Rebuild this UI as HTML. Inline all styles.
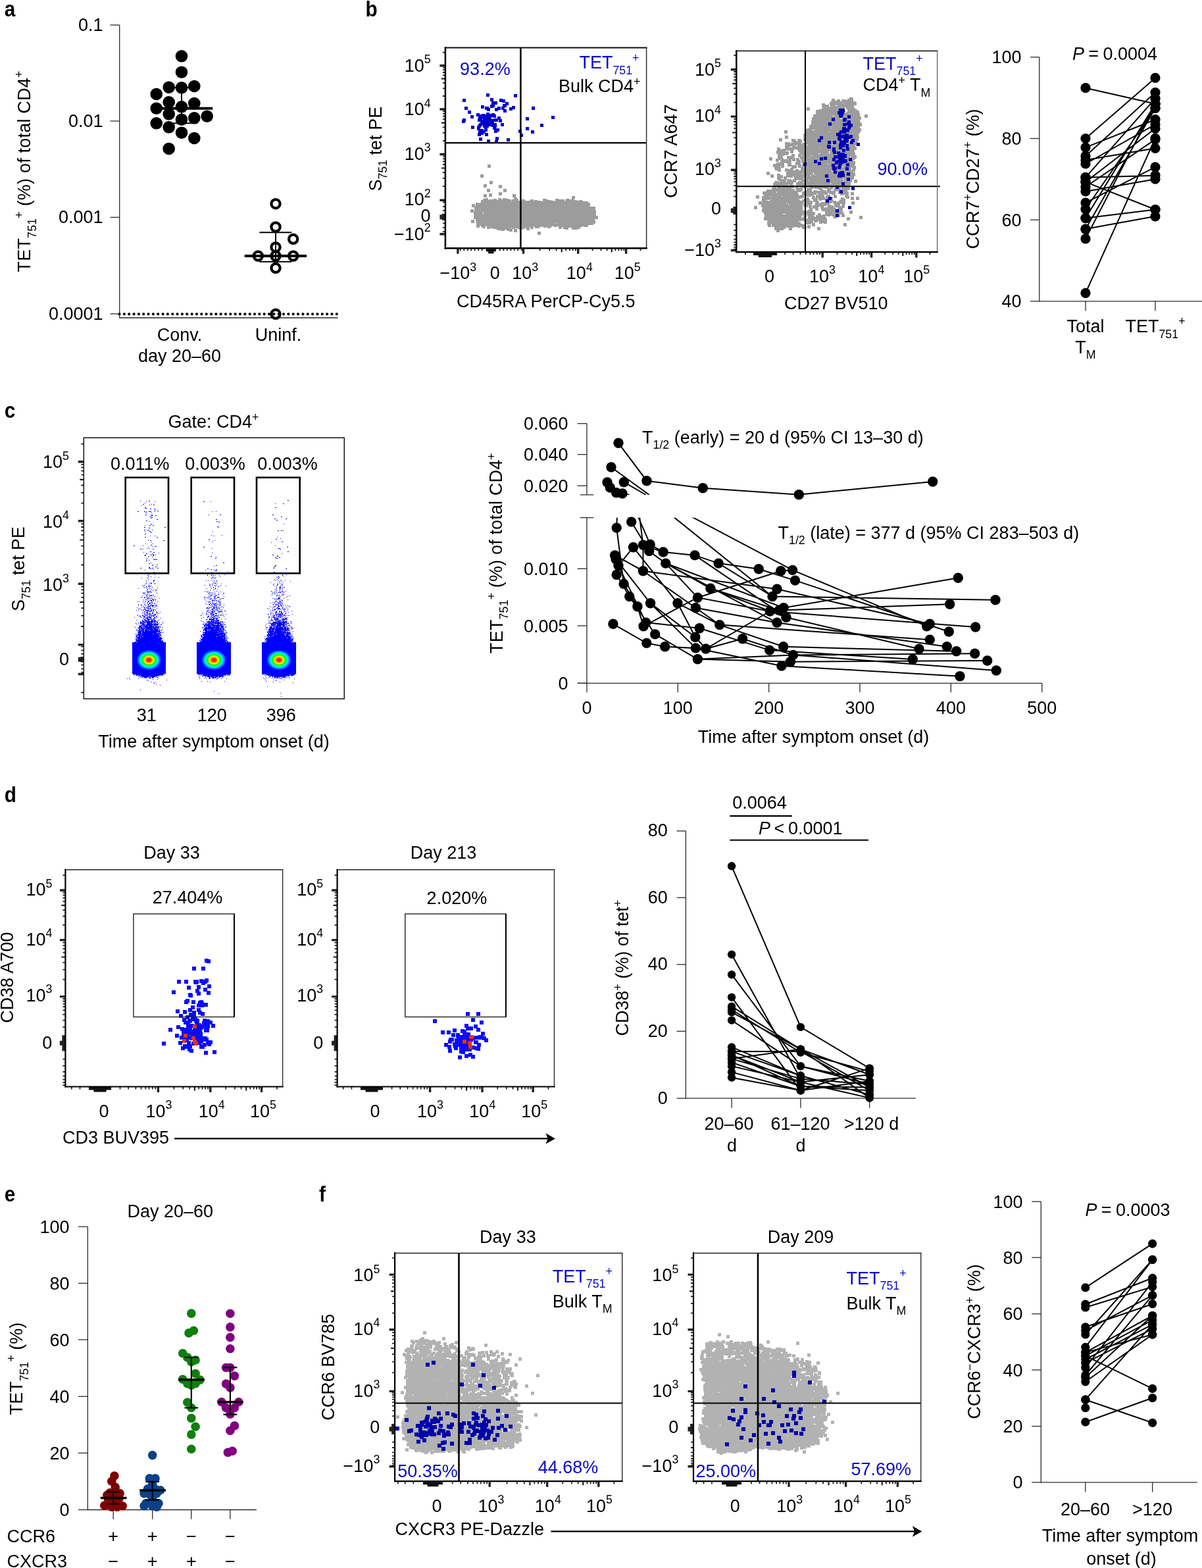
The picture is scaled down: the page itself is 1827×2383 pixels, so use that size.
<!DOCTYPE html>
<html lang="en"><head><meta charset="utf-8"><title>Figure</title>
<style>html,body{margin:0;padding:0;background:#fff}svg{display:block}svg{font-family:"Liberation Sans",Arial,Helvetica,sans-serif;font-size:27px}</style>
</head><body>
<svg width="1827" height="2383" viewBox="0 0 1827 2383">
<rect width="1827" height="2383" fill="#fff"/>
<g id="pa">
<text transform="translate(6.8 24.6) scale(0.88 1)" font-size="33.8" font-weight="bold">a</text>
<path d="M181.7 38V483H513.5" fill="none" stroke="#2a2a2a" stroke-width="1.3"/>
<line x1="167.5" y1="38" x2="181.7" y2="38" stroke="#2a2a2a" stroke-width="1.3"/>
<text x="156.5" y="47" text-anchor="end">0.1</text>
<line x1="167.5" y1="184" x2="181.7" y2="184" stroke="#2a2a2a" stroke-width="1.3"/>
<text x="156.5" y="193" text-anchor="end">0.01</text>
<line x1="167.5" y1="330.3" x2="181.7" y2="330.3" stroke="#2a2a2a" stroke-width="1.3"/>
<text x="156.5" y="339.3" text-anchor="end">0.001</text>
<line x1="167.5" y1="477" x2="181.7" y2="477" stroke="#2a2a2a" stroke-width="1.3"/>
<text x="156.5" y="486" text-anchor="end">0.0001</text>
<line x1="181.5" y1="477.3" x2="515" y2="477.3" stroke="#000" stroke-width="4.2" stroke-dasharray="0.01 7.33" stroke-linecap="round"/>
<text x="46" y="260.5" text-anchor="middle" letter-spacing="0.2" transform="rotate(-90 46 260.5)">TET<tspan dy="8.6" font-size="17.8">751</tspan><tspan dy="-19.2" font-size="17.8">+</tspan><tspan dy="10.5"> (%) of total CD4</tspan><tspan dy="-10.5" font-size="17.8">+</tspan></text>
<text x="273" y="517.5" text-anchor="middle">Conv.</text>
<text x="273" y="549.5" text-anchor="middle">day 20–60</text>
<text x="423" y="517.5" text-anchor="middle">Uninf.</text>
<line x1="276" y1="133.3" x2="276" y2="187.3" stroke="#000" stroke-width="2"/>
<line x1="263.3" y1="187.3" x2="300" y2="187.3" stroke="#000" stroke-width="2"/>
<line x1="263.3" y1="133.3" x2="288.7" y2="133.3" stroke="#000" stroke-width="2"/>
<g fill="#000"><circle cx="276" cy="85.3" r="9.3"/><circle cx="276" cy="109.7" r="9.3"/><circle cx="256.7" cy="132.7" r="9.3"/><circle cx="276" cy="133.3" r="9.3"/><circle cx="295.3" cy="131" r="9.3"/><circle cx="237.7" cy="143" r="9.3"/><circle cx="256.7" cy="155.3" r="9.3"/><circle cx="276" cy="162.3" r="9.3"/><circle cx="295.3" cy="157" r="9.3"/><circle cx="237.7" cy="164.7" r="9.3"/><circle cx="256.7" cy="173.3" r="9.3"/><circle cx="276" cy="181.7" r="9.3"/><circle cx="295.3" cy="179.3" r="9.3"/><circle cx="314.7" cy="176.7" r="9.3"/><circle cx="237.7" cy="187.3" r="9.3"/><circle cx="256.7" cy="193.3" r="9.3"/><circle cx="276" cy="201.7" r="9.3"/><circle cx="295.3" cy="210" r="9.3"/><circle cx="256.7" cy="226" r="9.3"/></g>
<line x1="245" y1="164.7" x2="323.3" y2="164.7" stroke="#000" stroke-width="4"/>
<line x1="419" y1="353.3" x2="419" y2="397.7" stroke="#000" stroke-width="2"/>
<line x1="394.3" y1="353.3" x2="443.3" y2="353.3" stroke="#000" stroke-width="2"/>
<line x1="394.3" y1="397.7" x2="443.3" y2="397.7" stroke="#000" stroke-width="2"/>
<line x1="371.7" y1="389" x2="466" y2="389" stroke="#000" stroke-width="4"/>
<g fill="none" stroke="#000" stroke-width="4.2"><circle cx="419" cy="309.7" r="6.6"/><circle cx="419" cy="345" r="6.6"/><circle cx="445.7" cy="363.3" r="6.6"/><circle cx="419" cy="375.7" r="6.6"/><circle cx="392.3" cy="389" r="6.6"/><circle cx="419" cy="389" r="6.6"/><circle cx="445.7" cy="389" r="6.6"/><circle cx="419" cy="407.3" r="6.6"/><circle cx="419" cy="477.3" r="6.6"/></g>
</g>
<g id="pb1">
<text transform="translate(555.5 24.6) scale(0.88 1)" font-size="33.8" font-weight="bold">b</text>
<path d="M741 250h5v5h-5zM730 265h5v5h-5zM744 275h5v5h-5zM735 280h5v5h-5zM758 281h5v5h-5zM765 287h5v5h-5zM740 287h5v5h-5zM758 292h5v5h-5zM743 294h5v5h-5zM735 295h5v5h-5zM779 295h5v5h-5zM781 300h5v2h-5zM764 301h5v1h-5zM737 301h5v1h-5zM869 298h5v5h-5zM757 301h5v2h-5zM781 302h7v1h-7zM764 302h9v1h-9zM844 302h5v1h-5zM825 302h5v1h-5zM860 302h5v1h-5zM750 302h5v1h-5zM734 302h8v2h-8zM860 303h12v1h-12zM825 303h8v1h-8zM743 303h12v1h-12zM757 303h20v1h-20zM793 303h5v2h-5zM778 303h10v2h-10zM806 303h5v2h-5zM825 304h13v1h-13zM812 304h5v1h-5zM880 304h5v1h-5zM859 304h18v1h-18zM731 304h46v1h-46zM844 303h14v3h-14zM825 305h18v1h-18zM859 305h27v1h-27zM731 305h91v1h-91zM731 306h163v2h-163zM723 308h5v1h-5zM729 308h168v1h-168zM723 309h174v4h-174zM717 310h5v3h-5zM717 313h180v1h-180zM717 314h188v1h-188zM721 315h184v5h-184zM715 318h5v3h-5zM721 320h185v1h-185zM715 321h191v2h-191zM720 323h14v2h-14zM735 323h171v2h-171zM720 325h185v1h-185zM720 326h186v2h-186zM720 328h189v5h-189zM723 333h181v2h-181zM723 335h182v2h-182zM716 334h5v5h-5zM724 337h181v2h-181zM724 339h120v1h-120zM845 339h60v1h-60zM724 340h178v2h-178zM724 342h170v1h-170zM739 343h155v1h-155zM731 343h7v2h-7zM849 344h36v1h-36zM812 344h12v1h-12zM842 344h5v1h-5zM740 344h71v1h-71zM887 344h7v1h-7zM825 344h14v1h-14zM724 343h5v3h-5zM740 345h65v1h-65zM855 345h27v1h-27zM826 345h5v1h-5zM733 345h5v2h-5zM832 345h5v2h-5zM813 345h7v2h-7zM799 346h6v1h-6zM778 346h20v1h-20zM740 346h37v1h-37zM806 345h5v3h-5zM849 345h5v3h-5zM856 346h8v2h-8zM869 346h13v2h-13zM786 347h12v1h-12zM740 347h5v1h-5zM749 347h34v1h-34zM755 348h24v1h-24zM859 348h5v1h-5zM869 348h9v1h-9zM789 348h5v1h-5zM800 347h5v3h-5zM755 349h12v1h-12zM770 349h9v2h-9zM762 350h5v1h-5zM774 351h5v1h-5zM781 348h5v5h-5zM817 352h5v5h-5z" fill="#9c9c9c"/>
<path d="M739 142h5v5h-5zM781 143h5v5h-5zM759 150h5v1h-5zM745 149h5v5h-5zM703 150h5v5h-5zM759 151h9v4h-9zM763 155h10v1h-10zM768 156h5v2h-5zM747 154h9v5h-9zM764 158h9v2h-9zM764 160h6v2h-6zM745 159h7v4h-7zM778 161h5v2h-5zM762 162h8v1h-8zM737 162h6v2h-6zM756 162h5v2h-5zM745 163h5v1h-5zM731 160h5v5h-5zM762 163h5v3h-5zM774 163h9v3h-9zM706 162h5v5h-5zM808 162h5v5h-5zM737 164h8v3h-8zM752 164h9v3h-9zM762 166h8v1h-8zM774 166h5v2h-5zM752 167h5v2h-5zM740 167h5v2h-5zM765 167h5v4h-5zM711 168h5v5h-5zM739 171h5v2h-5zM747 172h5v1h-5zM724 172h5v2h-5zM732 173h5v1h-5zM739 173h13v1h-13zM724 174h30v3h-30zM727 177h27v1h-27zM749 178h5v1h-5zM715 175h5v5h-5zM756 177h5v3h-5zM727 178h20v2h-20zM838 176h5v5h-5zM750 180h11v1h-11zM726 180h21v1h-21zM703 180h5v2h-5zM726 181h7v1h-7zM734 181h29v1h-29zM799 178h5v5h-5zM702 182h6v3h-6zM726 182h31v3h-31zM758 182h5v4h-5zM702 185h5v2h-5zM730 185h21v2h-21zM728 187h27v2h-27zM726 189h29v1h-29zM761 187h5v5h-5zM734 190h21v2h-21zM726 190h7v2h-7zM821 188h5v5h-5zM747 192h8v1h-8zM725 192h6v2h-6zM734 192h9v2h-9zM749 193h6v1h-6zM749 194h5v1h-5zM716 191h5v5h-5zM725 194h5v2h-5zM749 195h10v2h-10zM799 193h5v5h-5zM736 194h5v4h-5zM725 196h10v2h-10zM751 197h8v3h-8zM727 198h14v2h-14zM788 197h5v5h-5zM751 200h5v2h-5zM727 200h11v2h-11zM807 198h5v5h-5zM726 202h16v1h-16zM726 203h9v2h-9zM737 203h5v4h-5zM726 205h5v2h-5zM790 203h5v5h-5zM753 208h5v5h-5zM728 209h5v5h-5zM770 210h5v5h-5zM740 212h5v5h-5zM752 213h5v5h-5z" fill="#0000cd"/>
<line x1="791.4" y1="72.5" x2="791.4" y2="378" stroke="#000" stroke-width="2.5"/>
<line x1="676.7" y1="217.1" x2="982.6" y2="217.1" stroke="#000" stroke-width="2.4"/>
<path d="M672.9 283.2h4M672.9 270.9h4M672.9 262.2h4M672.9 250h4M672.9 245.3h4M672.9 241.3h4M672.9 237.7h4M672.9 213.9h4M672.9 201.8h4M672.9 193.3h4M672.9 181.2h4M672.9 176.6h4M672.9 172.6h4M672.9 169.1h4M672.9 146h4M672.9 134.4h4M672.9 126.1h4M672.9 114.4h4M672.9 110h4M672.9 106.1h4M672.9 102.7h4M672.9 79.7h4M672.9 320.2h4M672.9 339.4h4M672.9 313.8h4M672.9 345.8h4M672.9 307.4h4M672.9 352.2h4M820.5 377.3v4M835.2 377.3v4M845.6 377.3v4M860.2 377.3v4M865.8 377.3v4M870.6 377.3v4M874.9 377.3v4M900.6 377.3v4M913.5 377.3v4M922.6 377.3v4M935.4 377.3v4M940.3 377.3v4M944.5 377.3v4M948.3 377.3v4M973.5 377.3v4M760 377.3v4M732.6 377.3v4M765.4 377.3v4M727.2 377.3v4M770.9 377.3v4M721.7 377.3v4M776.4 377.3v4M716.2 377.3v4M781.8 377.3v4M710.8 377.3v4M787.3 377.3v4M705.3 377.3v4M792.8 377.3v4M699.8 377.3v4" fill="none" stroke="#222" stroke-width="1.8"/>
<path d="M670.9 255.5h6M670.9 186.6h6M670.9 119.7h6M853.7 377.3v6M929.7 377.3v6" fill="none" stroke="#222" stroke-width="2.2"/>
<path d="M668.4 304.2h8.5M668.4 234.5h8.5M668.4 166h8.5M668.4 99.7h8.5M668.4 355.7h8.5M795.5 377.3v8.5M878.7 377.3v8.5M951.6 377.3v8.5M695.9 377.3v8.5" fill="none" stroke="#222" stroke-width="3.4"/>
<rect x="671.9" y="324.8" width="5" height="10" fill="#222"/><rect x="668.4" y="326.3" width="8.5" height="7" fill="#222"/><rect x="738.8" y="377.3" width="15" height="5" fill="#111"/><rect x="742.1" y="377.3" width="8.4" height="8" fill="#111"/>
<line x1="676.9" y1="72.5" x2="982.6" y2="72.5" stroke="#111" stroke-width="1.9" stroke-linecap="square"/>
<line x1="982.6" y1="72.5" x2="982.6" y2="377.3" stroke="#333" stroke-width="1.5" stroke-linecap="square"/>
<line x1="676.9" y1="377.3" x2="982.6" y2="377.3" stroke="#000" stroke-width="2.6" stroke-linecap="square"/>
<line x1="676.9" y1="72.5" x2="676.9" y2="377.3" stroke="#000" stroke-width="2.5" stroke-linecap="square"/>
<text x="654.6" y="108.8" text-anchor="end">10<tspan dy="-12.4" font-size="17.8">5</tspan></text>
<text x="654.6" y="175.2" text-anchor="end">10<tspan dy="-12.4" font-size="17.8">4</tspan></text>
<text x="654.6" y="242.8" text-anchor="end">10<tspan dy="-12.4" font-size="17.8">3</tspan></text>
<text x="654.6" y="312" text-anchor="end">10<tspan dy="-12.4" font-size="17.8">2</tspan></text>
<text x="654.6" y="364.8" text-anchor="end">−10<tspan dy="-12.4" font-size="17.8">2</tspan></text>
<text x="654.6" y="336.5" text-anchor="end">0</text>
<text x="696.3" y="424" text-anchor="middle">−10<tspan dy="-12.4" font-size="17.8">3</tspan></text>
<text x="752.2" y="424" text-anchor="middle">0</text>
<text x="798.2" y="424" text-anchor="middle">10<tspan dy="-12.4" font-size="17.8">3</tspan></text>
<text x="880.8" y="424" text-anchor="middle">10<tspan dy="-12.4" font-size="17.8">4</tspan></text>
<text x="953.7" y="424" text-anchor="middle">10<tspan dy="-12.4" font-size="17.8">5</tspan></text>
<text x="829.7" y="467" text-anchor="middle">CD45RA PerCP-Cy5.5</text>
<text x="579.6" y="226.2" text-anchor="middle" transform="rotate(-90 579.6 226.2)">S<tspan dy="8.6" font-size="17.8">751</tspan><tspan dy="-8.6"> tet PE</tspan></text>
<text x="699.1" y="113.6" fill="#0a0ac8">93.2%</text>
<text x="971.5" y="104.2" text-anchor="end" fill="#0a0ac8">TET<tspan dy="8.6" font-size="17.8">751</tspan><tspan dy="-19.2" font-size="17.8">+</tspan></text>
<text x="973.5" y="140.3" text-anchor="end">Bulk CD4<tspan dy="-10.5" font-size="17.8">+</tspan></text>
</g>
<g id="pb2">
<path d="M1291 148h5v1h-5zM1291 149h6v1h-6zM1288 150h9v2h-9zM1279 151h7v1h-7zM1264 150h5v3h-5zM1272 151h5v2h-5zM1279 152h18v2h-18zM1263 153h14v1h-14zM1263 154h37v1h-37zM1261 155h41v1h-41zM1261 156h20v1h-20zM1282 156h20v1h-20zM1249 157h5v2h-5zM1261 157h41v3h-41zM1273 160h25v1h-25zM1262 160h8v1h-8zM1249 159h11v3h-11zM1262 161h36v1h-36zM1250 162h48v1h-48zM1285 163h13v1h-13zM1250 163h34v1h-34zM1249 164h35v2h-35zM1286 164h14v2h-14zM1245 166h38v1h-38zM1226 163h5v5h-5zM1288 166h15v2h-15zM1240 167h43v1h-43zM1288 168h18v2h-18zM1240 168h45v4h-45zM1286 170h20v2h-20zM1241 172h66v1h-66zM1239 173h68v1h-68zM1236 174h71v1h-71zM1267 175h40v2h-40zM1236 175h30v2h-30zM1236 177h73v1h-73zM1314 174h5v5h-5zM1234 178h75v1h-75zM1234 179h45v1h-45zM1280 179h29v2h-29zM1234 180h43v1h-43zM1234 181h75v1h-75zM1234 182h73v1h-73zM1233 183h74v1h-74zM1233 184h75v3h-75zM1286 187h24v1h-24zM1233 187h52v1h-52zM1233 188h77v1h-77zM1232 189h78v1h-78zM1230 190h80v1h-80zM1284 191h26v1h-26zM1230 191h53v1h-53zM1230 192h77v2h-77zM1230 194h33v1h-33zM1264 194h43v1h-43zM1227 195h82v1h-82zM1225 196h84v1h-84zM1223 197h12v1h-12zM1238 197h71v1h-71zM1223 198h86v2h-86zM1223 200h37v1h-37zM1261 200h46v1h-46zM1223 201h84v1h-84zM1192 198h5v5h-5zM1224 202h83v1h-83zM1222 203h83v1h-83zM1289 204h16v1h-16zM1221 204h67v1h-67zM1283 205h22v1h-22zM1221 205h58v2h-58zM1293 206h13v1h-13zM1283 206h9v1h-9zM1221 207h60v2h-60zM1283 207h23v2h-23zM1193 206h5v5h-5zM1221 209h85v2h-85zM1203 211h5v1h-5zM1212 211h5v1h-5zM1221 211h84v1h-84zM1221 212h67v1h-67zM1203 212h7v2h-7zM1292 212h13v2h-13zM1184 210h5v5h-5zM1212 212h7v3h-7zM1221 213h70v2h-70zM1203 214h8v1h-8zM1294 214h9v2h-9zM1203 215h16v1h-16zM1223 215h69v2h-69zM1205 216h14v1h-14zM1294 216h10v2h-10zM1193 216h8v2h-8zM1202 217h16v1h-16zM1279 217h13v1h-13zM1219 217h57v2h-57zM1282 218h22v1h-22zM1193 218h25v1h-25zM1266 219h10v1h-10zM1193 219h72v1h-72zM1277 219h27v2h-27zM1228 220h48v1h-48zM1212 220h14v1h-14zM1193 220h18v1h-18zM1193 221h16v1h-16zM1212 221h88v1h-88zM1193 222h10v1h-10zM1204 222h96v1h-96zM1204 223h98v1h-98zM1193 223h7v1h-7zM1247 224h55v1h-55zM1193 224h53v1h-53zM1193 225h109v1h-109zM1181 224h5v3h-5zM1189 226h113v1h-113zM1211 227h91v1h-91zM1181 227h26v2h-26zM1213 228h86v1h-86zM1180 229h14v1h-14zM1213 229h61v1h-61zM1275 229h24v1h-24zM1213 230h47v1h-47zM1262 230h37v1h-37zM1273 231h26v1h-26zM1201 229h5v4h-5zM1261 231h11v2h-11zM1215 231h45v2h-45zM1273 232h27v1h-27zM1180 230h19v4h-19zM1247 233h13v1h-13zM1261 233h39v1h-39zM1215 233h29v1h-29zM1213 234h87v1h-87zM1182 234h17v1h-17zM1219 235h81v1h-81zM1182 235h15v1h-15zM1203 234h5v3h-5zM1213 235h5v2h-5zM1219 236h14v1h-14zM1235 236h45v1h-45zM1182 236h10v1h-10zM1282 236h20v2h-20zM1213 237h67v1h-67zM1182 237h7v1h-7zM1196 237h12v2h-12zM1213 238h79v1h-79zM1182 238h8v2h-8zM1293 238h9v2h-9zM1196 239h10v1h-10zM1232 239h60v1h-60zM1216 239h15v1h-15zM1182 240h9v1h-9zM1216 240h86v1h-86zM1196 240h13v2h-13zM1216 241h84v1h-84zM1179 241h12v1h-12zM1210 240h5v3h-5zM1179 242h18v1h-18zM1217 242h60v1h-60zM1198 242h5v1h-5zM1278 242h22v1h-22zM1169 239h5v5h-5zM1278 243h19v1h-19zM1204 242h5v3h-5zM1210 243h7v2h-7zM1186 243h17v2h-17zM1218 243h59v2h-59zM1281 244h17v1h-17zM1179 243h5v3h-5zM1211 245h6v1h-6zM1281 245h19v1h-19zM1187 245h16v1h-16zM1218 245h18v1h-18zM1238 245h39v1h-39zM1185 246h18v1h-18zM1218 246h82v2h-82zM1193 247h9v1h-9zM1180 247h12v2h-12zM1222 248h78v1h-78zM1209 246h8v4h-8zM1260 249h40v1h-40zM1219 249h39v1h-39zM1197 248h6v3h-6zM1209 250h9v1h-9zM1175 249h17v3h-17zM1219 250h80v2h-80zM1197 251h14v2h-14zM1219 252h82v1h-82zM1213 251h5v3h-5zM1175 252h11v2h-11zM1187 252h5v2h-5zM1219 253h60v1h-60zM1282 253h19v1h-19zM1203 253h8v2h-8zM1213 254h88v1h-88zM1177 254h15v1h-15zM1296 255h5v1h-5zM1217 255h76v1h-76zM1201 255h10v1h-10zM1177 255h10v2h-10zM1201 256h5v1h-5zM1193 256h5v1h-5zM1295 256h6v1h-6zM1217 256h77v3h-77zM1295 257h5v2h-5zM1209 257h5v2h-5zM1178 257h9v2h-9zM1193 257h13v2h-13zM1193 259h71v2h-71zM1265 259h35v2h-35zM1182 259h5v2h-5zM1196 261h101v1h-101zM1195 262h41v2h-41zM1237 262h45v2h-45zM1283 262h17v2h-17zM1237 264h63v1h-63zM1195 264h24v1h-24zM1220 264h15v1h-15zM1165 261h5v5h-5zM1181 264h5v2h-5zM1195 265h105v1h-105zM1239 266h61v1h-61zM1233 266h5v1h-5zM1195 266h37v2h-37zM1233 267h67v1h-67zM1206 268h92v1h-92zM1171 265h5v5h-5zM1191 268h14v2h-14zM1207 269h91v1h-91zM1181 266h9v5h-9zM1223 270h75v1h-75zM1207 270h15v2h-15zM1191 270h5v2h-5zM1223 271h58v1h-58zM1181 271h6v1h-6zM1282 271h16v2h-16zM1224 272h57v1h-57zM1181 272h22v1h-22zM1205 272h18v2h-18zM1196 273h7v1h-7zM1224 273h58v1h-58zM1182 273h13v2h-13zM1283 273h12v2h-12zM1224 274h5v1h-5zM1218 274h5v1h-5zM1230 274h52v1h-52zM1186 275h9v1h-9zM1177 275h5v1h-5zM1196 274h14v3h-14zM1213 275h82v2h-82zM1177 276h18v1h-18zM1298 273h5v5h-5zM1177 277h29v1h-29zM1222 277h71v1h-71zM1210 277h10v1h-10zM1175 278h31v1h-31zM1210 278h52v2h-52zM1263 278h30v2h-30zM1175 279h30v2h-30zM1283 280h10v1h-10zM1210 280h72v1h-72zM1175 281h23v1h-23zM1210 281h83v1h-83zM1200 281h7v1h-7zM1190 282h17v1h-17zM1175 282h13v1h-13zM1218 282h73v1h-73zM1218 283h60v1h-60zM1189 283h18v2h-18zM1181 283h7v2h-7zM1261 284h7v1h-7zM1273 284h5v1h-5zM1175 284h5v1h-5zM1231 284h29v1h-29zM1218 284h10v1h-10zM1209 282h5v4h-5zM1215 285h5v1h-5zM1221 285h5v1h-5zM1181 285h26v1h-26zM1229 285h31v1h-31zM1173 285h7v1h-7zM1261 285h5v1h-5zM1269 285h9v1h-9zM1209 286h11v1h-11zM1226 286h10v1h-10zM1173 286h30v1h-30zM1253 286h13v1h-13zM1238 286h12v1h-12zM1279 283h13v5h-13zM1267 286h11v2h-11zM1257 287h9v1h-9zM1243 287h7v1h-7zM1173 287h35v1h-35zM1226 287h8v2h-8zM1245 288h7v1h-7zM1267 288h24v1h-24zM1210 287h10v3h-10zM1257 288h6v2h-6zM1165 288h43v2h-43zM1237 289h5v1h-5zM1267 289h21v1h-21zM1247 289h9v1h-9zM1223 289h11v2h-11zM1164 290h54v1h-54zM1273 290h15v1h-15zM1257 290h15v1h-15zM1236 290h20v1h-20zM1181 291h37v1h-37zM1219 291h51v2h-51zM1159 291h21v2h-21zM1181 292h32v1h-32zM1219 293h39v1h-39zM1274 291h16v4h-16zM1159 293h54v2h-54zM1260 293h10v2h-10zM1242 294h16v1h-16zM1219 294h22v2h-22zM1244 295h8v1h-8zM1264 295h5v1h-5zM1253 295h5v1h-5zM1277 295h13v1h-13zM1159 295h55v1h-55zM1293 292h5v5h-5zM1161 296h53v1h-53zM1284 296h5v1h-5zM1217 296h20v1h-20zM1277 296h5v1h-5zM1257 296h5v1h-5zM1161 297h76v1h-76zM1240 296h13v3h-13zM1255 297h7v2h-7zM1223 298h10v1h-10zM1173 298h15v1h-15zM1189 298h33v1h-33zM1158 298h14v1h-14zM1284 297h7v3h-7zM1267 296h5v5h-5zM1234 298h5v3h-5zM1158 299h64v2h-64zM1255 299h11v2h-11zM1240 299h14v2h-14zM1224 300h6v1h-6zM1149 297h5v5h-5zM1286 300h5v2h-5zM1278 300h5v2h-5zM1158 301h61v1h-61zM1222 301h8v2h-8zM1234 301h9v2h-9zM1278 302h7v1h-7zM1158 302h56v1h-56zM1293 299h5v5h-5zM1301 299h5v5h-5zM1244 301h22v3h-22zM1158 303h13v1h-13zM1172 303h44v1h-44zM1276 303h9v2h-9zM1219 303h12v2h-12zM1244 304h5v1h-5zM1170 304h46v1h-46zM1158 304h7v1h-7zM1260 304h6v1h-6zM1236 303h7v3h-7zM1254 304h5v2h-5zM1158 305h10v1h-10zM1260 305h11v1h-11zM1169 305h66v1h-66zM1275 305h10v1h-10zM1236 306h9v1h-9zM1254 306h17v1h-17zM1153 306h82v1h-82zM1272 306h13v1h-13zM1153 307h5v1h-5zM1159 307h76v1h-76zM1247 307h18v2h-18zM1239 307h6v2h-6zM1223 308h12v1h-12zM1196 308h25v1h-25zM1153 308h42v1h-42zM1266 307h19v3h-19zM1153 309h82v1h-82zM1294 306h5v5h-5zM1239 309h22v2h-22zM1221 310h12v1h-12zM1280 310h5v1h-5zM1153 310h45v1h-45zM1199 310h21v2h-21zM1157 311h41v1h-41zM1221 311h13v1h-13zM1238 311h25v1h-25zM1268 310h9v3h-9zM1279 311h5v2h-5zM1235 312h21v1h-21zM1221 312h7v2h-7zM1235 313h17v1h-17zM1157 312h63v3h-63zM1258 312h9v3h-9zM1268 313h16v2h-16zM1223 314h5v1h-5zM1229 312h5v4h-5zM1235 314h9v2h-9zM1247 314h6v2h-6zM1273 315h11v1h-11zM1254 315h15v1h-15zM1159 315h61v2h-61zM1247 316h24v1h-24zM1230 316h14v1h-14zM1146 313h5v5h-5zM1248 317h23v2h-23zM1230 317h5v2h-5zM1273 316h8v4h-8zM1239 317h5v3h-5zM1158 317h62v3h-62zM1249 319h23v2h-23zM1227 319h8v2h-8zM1273 320h7v1h-7zM1158 320h66v1h-66zM1254 321h18v1h-18zM1158 321h77v1h-77zM1273 321h9v1h-9zM1254 322h28v1h-28zM1160 322h79v2h-79zM1254 323h12v1h-12zM1267 323h15v1h-15zM1291 320h5v5h-5zM1271 324h11v1h-11zM1161 324h78v1h-78zM1254 324h16v1h-16zM1254 325h30v1h-30zM1194 325h45v1h-45zM1161 325h29v1h-29zM1243 324h5v3h-5zM1250 326h27v1h-27zM1227 326h12v1h-12zM1162 326h64v1h-64zM1240 327h37v1h-37zM1162 327h57v2h-57zM1227 327h10v2h-10zM1265 328h12v1h-12zM1257 328h5v1h-5zM1279 326h5v4h-5zM1221 327h5v3h-5zM1240 328h15v2h-15zM1228 329h11v1h-11zM1266 329h11v1h-11zM1162 329h56v1h-56zM1228 330h27v1h-27zM1161 330h57v1h-57zM1219 330h6v1h-6zM1267 330h5v2h-5zM1228 331h29v1h-29zM1161 331h64v1h-64zM1306 328h5v5h-5zM1287 330h5v5h-5zM1161 332h96v3h-96zM1166 335h53v1h-53zM1220 335h16v1h-16zM1237 335h20v1h-20zM1167 336h47v1h-47zM1237 336h6v2h-6zM1245 336h12v3h-12zM1223 336h13v3h-13zM1166 337h51v3h-51zM1252 339h5v1h-5zM1245 339h5v1h-5zM1223 339h10v2h-10zM1166 340h54v1h-54zM1166 341h6v1h-6zM1173 341h50v2h-50zM1234 339h5v5h-5zM1282 339h5v5h-5zM1167 342h5v3h-5zM1173 343h53v2h-53zM1177 345h30v1h-30zM1218 345h8v1h-8zM1211 345h5v1h-5zM1227 342h5v5h-5zM1177 346h17v2h-17zM1219 346h7v2h-7zM1242 345h5v5h-5zM1199 346h5v4h-5zM1177 348h14v2h-14zM1180 350h5v3h-5z" fill="#9c9c9c"/>
<path d="M1275 165h9v4h-9zM1273 169h11v1h-11zM1273 170h10v4h-10zM1275 174h7v2h-7zM1275 176h6v2h-6zM1276 178h5v1h-5zM1288 175h5v5h-5zM1282 179h5v1h-5zM1264 179h5v5h-5zM1281 180h6v4h-6zM1281 184h5v1h-5zM1288 183h5v3h-5zM1286 186h7v1h-7zM1281 187h12v1h-12zM1259 186h5v5h-5zM1281 188h15v3h-15zM1289 191h7v1h-7zM1281 191h5v1h-5zM1288 192h8v1h-8zM1288 193h6v1h-6zM1280 193h6v2h-6zM1288 194h5v1h-5zM1280 195h13v2h-13zM1280 197h11v1h-11zM1276 198h15v3h-15zM1274 201h12v1h-12zM1271 202h15v1h-15zM1285 203h5v1h-5zM1271 203h8v2h-8zM1281 204h9v1h-9zM1291 205h5v1h-5zM1271 205h19v1h-19zM1271 206h25v1h-25zM1274 207h22v1h-22zM1273 208h23v2h-23zM1246 207h5v4h-5zM1282 210h11v1h-11zM1243 211h8v1h-8zM1273 210h6v3h-6zM1294 211h5v3h-5zM1282 211h8v3h-8zM1274 213h7v1h-7zM1276 214h14v1h-14zM1243 212h5v4h-5zM1292 214h7v2h-7zM1276 215h13v2h-13zM1276 217h10v1h-10zM1258 214h5v5h-5zM1266 214h5v5h-5zM1292 216h5v3h-5zM1275 218h11v1h-11zM1275 219h15v1h-15zM1257 220h5v1h-5zM1302 217h5v5h-5zM1275 220h9v4h-9zM1285 220h5v4h-5zM1257 221h6v4h-6zM1275 224h5v2h-5zM1258 225h5v1h-5zM1275 226h10v1h-10zM1286 224h5v5h-5zM1265 224h5v5h-5zM1280 227h5v4h-5zM1265 229h6v2h-6zM1272 230h5v2h-5zM1266 231h5v3h-5zM1272 232h12v2h-12zM1272 234h15v1h-15zM1274 235h13v1h-13zM1267 236h20v4h-20zM1265 240h19v1h-19zM1274 241h10v1h-10zM1252 238h5v5h-5zM1274 242h14v1h-14zM1246 239h5v5h-5zM1290 240h5v5h-5zM1265 241h5v4h-5zM1271 243h17v2h-17zM1269 245h19v2h-19zM1237 243h5v5h-5zM1269 247h17v1h-17zM1275 248h7v1h-7zM1269 248h5v1h-5zM1264 249h10v1h-10zM1275 249h5v1h-5zM1243 246h5v5h-5zM1274 250h6v1h-6zM1221 247h5v5h-5zM1274 251h5v1h-5zM1286 248h5v5h-5zM1264 250h5v3h-5zM1264 253h8v1h-8zM1273 252h6v3h-6zM1273 255h5v2h-5zM1265 254h7v4h-7zM1285 254h5v5h-5zM1265 258h5v1h-5zM1277 260h6v1h-6zM1267 259h5v5h-5zM1274 261h9v3h-9zM1274 264h10v1h-10zM1287 262h5v5h-5zM1273 265h11v4h-11zM1254 265h5v5h-5zM1273 269h7v1h-7zM1287 270h5v5h-5zM1256 272h5v5h-5zM1279 277h5v5h-5zM1270 282h5v5h-5zM1294 284h5v5h-5zM1276 289h5v5h-5zM1259 299h5v4h-5zM1255 303h9v1h-9zM1255 304h5v4h-5zM1289 313h5v5h-5zM1270 318h5v5h-5zM1270 325h5v5h-5z" fill="#0000b4"/>
<line x1="1224" y1="77.4" x2="1224" y2="383" stroke="#000" stroke-width="2"/>
<line x1="1119.3" y1="283.3" x2="1428.8" y2="283.3" stroke="#000" stroke-width="2"/>
<path d="M1115.3 233.9h4M1115.3 219.6h4M1115.3 209.4h4M1115.3 195.1h4M1115.3 189.7h4M1115.3 185h4M1115.3 180.8h4M1115.3 155.6h4M1115.3 143h4M1115.3 134.1h4M1115.3 121.5h4M1115.3 116.8h4M1115.3 112.6h4M1115.3 109h4M1115.3 84.2h4M1115.3 298.7h4M1115.3 341.3h4M1115.3 289.8h4M1115.3 350.2h4M1115.3 282.1h4M1115.3 357.9h4M1115.3 276.4h4M1115.3 363.6h4M1115.3 271.7h4M1115.3 368.3h4M1115.3 268h4M1115.3 372h4M1115.3 264.3h4M1115.3 375.7h4M1115.3 261.3h4M1115.3 378.7h4M1272.6 383v4M1285.7 383v4M1295 383v4M1308.1 383v4M1313.1 383v4M1317.4 383v4M1321.2 383v4M1345.1 383v4M1357.1 383v4M1365.7 383v4M1377.7 383v4M1382.2 383v4M1386.2 383v4M1389.7 383v4M1413.3 383v4M1193.1 383v4M1132.9 383v4M1205.6 383v4M1216.6 383v4M1224.7 383v4M1231.3 383v4M1236.5 383v4M1241.7 383v4M1246 383v4" fill="none" stroke="#222" stroke-width="1.8"/>
<path d="M1113.3 201.5h6M1113.3 127.2h6M1302.2 383v6M1372.3 383v6" fill="none" stroke="#222" stroke-width="2.2"/>
<path d="M1110.8 258.3h8.5M1110.8 177.1h8.5M1110.8 105.7h8.5M1110.8 380.5h8.5M1250.2 383v8.5M1324.6 383v8.5M1392.8 383v8.5" fill="none" stroke="#222" stroke-width="3.4"/>
<rect x="1114.3" y="314" width="5" height="12" fill="#222"/><rect x="1110.8" y="316.5" width="8.5" height="7" fill="#222"/><rect x="1145" y="383" width="36" height="5" fill="#111"/><rect x="1152.9" y="383" width="20.2" height="8" fill="#111"/>
<line x1="1119.3" y1="77.4" x2="1424.6" y2="77.4" stroke="#222" stroke-width="1.6" stroke-linecap="square"/>
<line x1="1424.6" y1="77.4" x2="1424.6" y2="383" stroke="#666" stroke-width="1.3" stroke-linecap="square"/>
<line x1="1119.3" y1="383" x2="1424.6" y2="383" stroke="#000" stroke-width="2.4" stroke-linecap="square"/>
<line x1="1119.3" y1="77.4" x2="1119.3" y2="383" stroke="#000" stroke-width="2.4" stroke-linecap="square"/>
<text x="1096" y="114.8" text-anchor="end">10<tspan dy="-12.4" font-size="17.8">5</tspan></text>
<text x="1096" y="185.3" text-anchor="end">10<tspan dy="-12.4" font-size="17.8">4</tspan></text>
<text x="1096" y="266" text-anchor="end">10<tspan dy="-12.4" font-size="17.8">3</tspan></text>
<text x="1096" y="388.6" text-anchor="end">−10<tspan dy="-12.4" font-size="17.8">3</tspan></text>
<text x="1096" y="326" text-anchor="end">0</text>
<text x="1169.6" y="428.8" text-anchor="middle">0</text>
<text x="1250" y="428.8" text-anchor="middle">10<tspan dy="-12.4" font-size="17.8">3</tspan></text>
<text x="1324.3" y="428.8" text-anchor="middle">10<tspan dy="-12.4" font-size="17.8">4</tspan></text>
<text x="1393.1" y="428.8" text-anchor="middle">10<tspan dy="-12.4" font-size="17.8">5</tspan></text>
<text x="1270.8" y="469.8" text-anchor="middle">CD27 BV510</text>
<text x="1029.1" y="229.8" text-anchor="middle" transform="rotate(-90 1029.1 229.8)">CCR7 A647</text>
<text x="1311.5" y="105.7" fill="#0a0ac8">TET<tspan dy="8.6" font-size="17.8">751</tspan><tspan dy="-19.2" font-size="17.8">+</tspan></text>
<text x="1311.5" y="138.4">CD4<tspan dy="-10.5" font-size="17.8">+</tspan><tspan dy="10.5"> T</tspan><tspan dy="8.6" font-size="17.8">M</tspan></text>
<text x="1410" y="265.8" text-anchor="end" fill="#0a0ac8">90.0%</text>
</g>
<g id="pb3">
<path d="M1579.8 86.8V457.8H1827" fill="none" stroke="#2a2a2a" stroke-width="1.3"/>
<line x1="1566" y1="457.8" x2="1580" y2="457.8" stroke="#2a2a2a" stroke-width="1.3"/>
<line x1="1566" y1="86.8" x2="1579.8" y2="86.8" stroke="#2a2a2a" stroke-width="1.3"/>
<text x="1552.5" y="96.4" text-anchor="end">100</text>
<line x1="1566" y1="210.5" x2="1579.8" y2="210.5" stroke="#2a2a2a" stroke-width="1.3"/>
<text x="1552.5" y="220.1" text-anchor="end">80</text>
<line x1="1566" y1="334.1" x2="1579.8" y2="334.1" stroke="#2a2a2a" stroke-width="1.3"/>
<text x="1552.5" y="343.7" text-anchor="end">60</text>
<text x="1552.5" y="467.4" text-anchor="end">40</text>
<line x1="1650" y1="457.8" x2="1650" y2="472.5" stroke="#2a2a2a" stroke-width="1.3"/>
<line x1="1756" y1="457.8" x2="1756" y2="472.5" stroke="#2a2a2a" stroke-width="1.3"/>
<text x="1487.5" y="272" text-anchor="middle" transform="rotate(-90 1487.5 272)">CCR7<tspan dy="-10.5" font-size="17.8">+</tspan><tspan dy="10.5">CD27</tspan><tspan dy="-10.5" font-size="17.8">+</tspan><tspan dy="10.5"> (%)</tspan></text>
<text x="1630" y="90.5" word-spacing="-1.2"><tspan font-style="italic">P</tspan> = 0.0004</text>
<text x="1650" y="505" text-anchor="middle">Total</text>
<text x="1650" y="536.5" text-anchor="middle">T<tspan dy="8.6" font-size="17.8">M</tspan></text>
<text x="1756" y="505" text-anchor="middle">TET<tspan dy="8.6" font-size="17.8">751</tspan><tspan dy="-19.2" font-size="17.8">+</tspan></text>
<path d="M1650 133.7L1756 157.8M1650 210.5L1756 118.4M1650 224.1L1756 181.7M1650 237.2L1756 140.6M1650 243.3L1756 225.3M1650 249L1756 189.1M1650 269.7L1756 149.7M1650 269.7L1756 266.7M1650 276.6L1756 195.3M1650 276.6L1756 318.5M1650 284L1756 211.8M1650 290.9L1756 272.2M1650 308.1L1756 253.9M1650 317.8L1756 164.5M1650 331.6L1756 318.5M1650 331.6L1756 157.8M1650 348.1L1756 328.8M1650 348.1L1756 164.5M1650 362.9L1756 157.8M1650 445.4L1756 210.1" fill="none" stroke="#000" stroke-width="2"/>
<g fill="#000"><circle cx="1650" cy="133.7" r="7.6"/><circle cx="1756" cy="157.8" r="7.6"/><circle cx="1650" cy="210.5" r="7.6"/><circle cx="1756" cy="118.4" r="7.6"/><circle cx="1650" cy="224.1" r="7.6"/><circle cx="1756" cy="181.7" r="7.6"/><circle cx="1650" cy="237.2" r="7.6"/><circle cx="1756" cy="140.6" r="7.6"/><circle cx="1650" cy="243.3" r="7.6"/><circle cx="1756" cy="225.3" r="7.6"/><circle cx="1650" cy="249" r="7.6"/><circle cx="1756" cy="189.1" r="7.6"/><circle cx="1650" cy="269.7" r="7.6"/><circle cx="1756" cy="149.7" r="7.6"/><circle cx="1650" cy="269.7" r="7.6"/><circle cx="1756" cy="266.7" r="7.6"/><circle cx="1650" cy="276.6" r="7.6"/><circle cx="1756" cy="195.3" r="7.6"/><circle cx="1650" cy="276.6" r="7.6"/><circle cx="1756" cy="318.5" r="7.6"/><circle cx="1650" cy="284" r="7.6"/><circle cx="1756" cy="211.8" r="7.6"/><circle cx="1650" cy="290.9" r="7.6"/><circle cx="1756" cy="272.2" r="7.6"/><circle cx="1650" cy="308.1" r="7.6"/><circle cx="1756" cy="253.9" r="7.6"/><circle cx="1650" cy="317.8" r="7.6"/><circle cx="1756" cy="164.5" r="7.6"/><circle cx="1650" cy="331.6" r="7.6"/><circle cx="1756" cy="318.5" r="7.6"/><circle cx="1650" cy="331.6" r="7.6"/><circle cx="1756" cy="157.8" r="7.6"/><circle cx="1650" cy="348.1" r="7.6"/><circle cx="1756" cy="328.8" r="7.6"/><circle cx="1650" cy="348.1" r="7.6"/><circle cx="1756" cy="164.5" r="7.6"/><circle cx="1650" cy="362.9" r="7.6"/><circle cx="1756" cy="157.8" r="7.6"/><circle cx="1650" cy="445.4" r="7.6"/><circle cx="1756" cy="210.1" r="7.6"/></g>
</g>
<g id="pc1">
<text transform="translate(6.8 634.6) scale(0.88 1)" font-size="33.8" font-weight="bold">c</text>
<defs><radialGradient id="dg" cx="0.5" cy="0.5" r="0.5"><stop offset="0" stop-color="#ff1a00"/><stop offset="0.17" stop-color="#ff2a00"/><stop offset="0.30" stop-color="#ffd000"/><stop offset="0.38" stop-color="#e0ff00"/><stop offset="0.50" stop-color="#20f000"/><stop offset="0.60" stop-color="#00ff70"/><stop offset="0.70" stop-color="#00f0ff"/><stop offset="0.82" stop-color="#0090ff"/><stop offset="1" stop-color="#0000ff"/></radialGradient></defs>
<path d="M437 760h2v1h-2zM213 761h1v1h-1zM226 761h2v1h-2zM222 762h1v1h-1zM320 762h1v1h-1zM309 762h2v1h-2zM235 762h1v1h-1zM220 764h1v1h-1zM418 765h1v1h-1zM430 765h2v1h-2zM217 766h2v1h-2zM230 766h1v1h-1zM233 766h1v1h-1zM227 767h1v1h-1zM234 767h1v1h-1zM215 768h1v1h-1zM220 771h2v1h-2zM418 771h2v1h-2zM221 772h2v1h-2zM228 773h2v1h-2zM234 773h2v1h-2zM236 774h1v1h-1zM239 776h2v1h-2zM234 776h2v1h-2zM222 777h1v1h-1zM328 777h1v1h-1zM322 777h1v1h-1zM209 777h2v1h-2zM219 777h2v1h-2zM226 777h4v1h-4zM230 779h1v1h-1zM221 779h2v1h-2zM221 782h2v1h-2zM317 782h1v1h-1zM414 782h2v1h-2zM334 782h2v1h-2zM230 782h2v2h-2zM236 783h2v1h-2zM427 785h2v1h-2zM228 785h2v1h-2zM230 786h2v1h-2zM229 787h1v1h-1zM417 788h2v1h-2zM434 788h2v1h-2zM238 789h2v1h-2zM328 789h2v1h-2zM420 790h2v1h-2zM222 791h2v1h-2zM227 792h1v1h-1zM329 792h2v1h-2zM332 793h2v1h-2zM431 796h1v1h-1zM229 796h2v1h-2zM227 798h2v1h-2zM232 798h2v1h-2zM220 798h1v1h-1zM330 800h2v1h-2zM250 801h2v1h-2zM219 801h2v1h-2zM332 801h1v1h-1zM226 802h2v1h-2zM219 805h2v1h-2zM231 805h1v1h-1zM225 805h2v1h-2zM224 806h1v1h-1zM427 806h2v1h-2zM422 806h2v1h-2zM430 806h1v1h-1zM227 807h1v1h-1zM220 807h1v1h-1zM228 808h2v1h-2zM323 808h1v1h-1zM230 809h1v1h-1zM220 811h2v1h-2zM337 813h1v1h-1zM321 813h1v1h-1zM228 814h1v1h-1zM325 814h1v1h-1zM235 814h1v1h-1zM220 816h2v1h-2zM421 816h1v1h-1zM238 816h2v1h-2zM426 818h1v1h-1zM419 819h2v1h-2zM317 820h2v1h-2zM326 821h1v1h-1zM228 821h2v1h-2zM225 821h1v1h-1zM248 821h2v1h-2zM230 823h1v1h-1zM428 823h2v1h-2zM323 823h1v1h-1zM412 824h1v1h-1zM232 826h1v1h-1zM221 826h1v1h-1zM229 828h2v1h-2zM418 829h1v1h-1zM217 829h1v1h-1zM203 829h2v1h-2zM235 830h3v1h-3zM231 830h1v1h-1zM225 831h1v1h-1zM309 831h2v1h-2zM436 831h2v1h-2zM226 833h1v1h-1zM223 833h1v1h-1zM322 833h1v1h-1zM423 833h2v1h-2zM217 834h1v1h-1zM213 834h2v1h-2zM232 834h2v1h-2zM425 834h2v1h-2zM228 838h2v1h-2zM437 838h2v1h-2zM233 839h2v1h-2zM218 839h1v1h-1zM241 840h1v1h-1zM322 840h1v1h-1zM222 841h2v1h-2zM428 841h1v1h-1zM231 841h1v1h-1zM232 842h2v1h-2zM229 843h2v1h-2zM236 843h1v1h-1zM233 843h1v1h-1zM414 843h2v1h-2zM220 843h2v2h-2zM232 844h2v1h-2zM421 844h1v1h-1zM226 845h1v1h-1zM320 845h2v1h-2zM421 845h2v1h-2zM328 846h1v1h-1zM225 846h1v1h-1zM231 846h1v1h-1zM418 847h2v1h-2zM424 847h2v1h-2zM420 848h2v1h-2zM327 848h2v1h-2zM222 849h2v1h-2zM233 850h6v1h-6zM226 851h1v1h-1zM222 852h2v1h-2zM339 855h2v1h-2zM229 855h1v1h-1zM226 856h2v1h-2zM232 857h1v1h-1zM238 858h2v1h-2zM418 859h2v1h-2zM328 859h2v1h-2zM231 859h2v1h-2zM418 860h1v1h-1zM325 860h1v1h-1zM416 861h2v1h-2zM236 861h2v1h-2zM226 862h2v2h-2zM239 863h2v1h-2zM231 863h2v1h-2zM213 863h2v1h-2zM415 863h2v1h-2zM228 864h2v1h-2zM315 864h2v1h-2zM434 864h2v1h-2zM325 865h1v1h-1zM328 865h2v1h-2zM320 865h2v1h-2zM233 865h1v1h-1zM312 866h1v1h-1zM220 866h1v1h-1zM326 867h4v1h-4zM346 868h1v1h-1zM416 869h2v1h-2zM234 869h1v1h-1zM423 870h1v1h-1zM236 871h2v1h-2zM211 871h2v1h-2zM220 871h2v1h-2zM422 871h2v1h-2zM229 871h2v1h-2zM319 871h2v1h-2zM420 871h1v1h-1zM233 871h1v1h-1zM242 871h1v1h-1zM225 872h1v1h-1zM235 873h1v1h-1zM435 873h1v1h-1zM322 873h1v1h-1zM226 873h1v1h-1zM341 873h1v1h-1zM315 873h1v2h-1zM429 873h1v2h-1zM324 874h1v1h-1zM224 874h1v1h-1zM333 874h1v1h-1zM321 874h1v1h-1zM327 874h1v1h-1zM431 875h1v1h-1zM225 875h1v1h-1zM323 875h1v1h-1zM423 875h1v2h-1zM334 876h1v1h-1zM229 876h1v1h-1zM241 877h1v1h-1zM225 877h1v1h-1zM235 877h1v1h-1zM420 877h2v1h-2zM424 877h1v1h-1zM326 877h1v1h-1zM323 877h2v1h-2zM215 878h1v1h-1zM224 878h1v1h-1zM327 878h1v1h-1zM322 878h1v1h-1zM423 878h1v2h-1zM325 879h1v1h-1zM321 879h1v1h-1zM225 880h1v1h-1zM421 880h1v1h-1zM433 881h1v1h-1zM234 881h1v1h-1zM417 881h2v1h-2zM427 881h1v1h-1zM316 882h1v1h-1zM325 882h1v1h-1zM426 882h1v1h-1zM423 882h1v1h-1zM233 882h2v1h-2zM313 882h1v1h-1zM322 882h1v1h-1zM222 882h1v1h-1zM329 882h1v2h-1zM428 883h1v1h-1zM441 883h1v1h-1zM233 883h1v1h-1zM222 884h1v1h-1zM424 884h1v1h-1zM326 884h1v1h-1zM324 885h1v1h-1zM228 885h1v1h-1zM330 885h1v1h-1zM411 885h1v1h-1zM233 885h1v1h-1zM430 885h1v1h-1zM326 886h2v1h-2zM229 886h2v1h-2zM222 886h1v1h-1zM421 886h1v1h-1zM425 886h1v1h-1zM235 886h1v2h-1zM318 887h1v1h-1zM221 887h1v1h-1zM328 887h1v1h-1zM322 887h2v1h-2zM416 887h1v1h-1zM336 887h1v1h-1zM229 887h1v1h-1zM226 887h1v1h-1zM428 887h1v2h-1zM415 888h1v1h-1zM421 888h2v1h-2zM319 888h1v1h-1zM318 889h1v1h-1zM219 889h1v1h-1zM421 889h1v1h-1zM328 889h1v1h-1zM311 889h1v1h-1zM227 889h1v1h-1zM322 889h1v1h-1zM429 889h1v1h-1zM216 889h1v1h-1zM326 890h2v1h-2zM343 890h1v1h-1zM426 890h2v1h-2zM218 890h1v1h-1zM230 890h1v1h-1zM416 890h1v1h-1zM420 890h1v1h-1zM225 890h2v1h-2zM319 890h1v1h-1zM335 890h1v1h-1zM228 891h1v1h-1zM222 891h2v1h-2zM226 891h1v1h-1zM331 891h2v1h-2zM218 892h1v1h-1zM420 892h1v1h-1zM431 892h2v1h-2zM320 892h1v1h-1zM227 892h1v1h-1zM231 892h1v1h-1zM220 892h1v1h-1zM424 892h3v1h-3zM324 892h1v2h-1zM239 893h1v1h-1zM425 893h2v1h-2zM222 893h1v1h-1zM428 893h1v1h-1zM327 893h1v2h-1zM314 894h1v1h-1zM228 894h1v1h-1zM321 894h1v1h-1zM420 894h1v1h-1zM429 894h1v1h-1zM226 894h1v1h-1zM210 894h1v1h-1zM425 894h1v1h-1zM418 895h1v1h-1zM424 895h1v1h-1zM230 895h1v1h-1zM426 895h1v1h-1zM326 895h1v1h-1zM330 895h1v1h-1zM223 895h2v1h-2zM233 895h1v1h-1zM324 896h1v1h-1zM238 896h1v1h-1zM320 896h1v1h-1zM236 896h1v1h-1zM429 896h1v1h-1zM419 896h1v1h-1zM232 897h1v1h-1zM237 897h1v1h-1zM420 897h1v1h-1zM229 897h1v1h-1zM425 897h1v1h-1zM223 897h1v2h-1zM434 898h1v1h-1zM424 898h1v1h-1zM329 898h1v1h-1zM227 898h1v1h-1zM311 898h1v1h-1zM429 898h1v1h-1zM412 898h1v1h-1zM325 899h1v1h-1zM228 899h2v1h-2zM317 899h1v1h-1zM417 899h1v1h-1zM426 899h1v1h-1zM413 899h1v1h-1zM224 899h3v1h-3zM236 899h1v1h-1zM314 899h2v1h-2zM428 899h2v1h-2zM419 899h1v1h-1zM335 899h1v1h-1zM431 899h1v2h-1zM224 900h2v1h-2zM318 900h1v1h-1zM217 900h1v1h-1zM230 900h1v1h-1zM416 900h1v1h-1zM420 900h1v1h-1zM423 900h4v1h-4zM320 900h1v1h-1zM227 900h1v1h-1zM322 900h1v1h-1zM220 900h1v1h-1zM238 901h1v1h-1zM339 901h2v1h-2zM326 901h1v1h-1zM414 901h1v1h-1zM218 901h2v1h-2zM332 901h1v1h-1zM317 901h1v2h-1zM218 902h1v1h-1zM224 902h1v1h-1zM421 902h1v1h-1zM413 902h1v1h-1zM320 902h1v1h-1zM322 902h1v1h-1zM429 902h1v1h-1zM417 902h2v1h-2zM325 903h1v1h-1zM428 903h1v1h-1zM318 903h1v1h-1zM327 903h1v1h-1zM227 903h1v1h-1zM220 903h1v1h-1zM430 903h2v1h-2zM338 903h1v1h-1zM223 903h1v1h-1zM332 903h1v2h-1zM224 904h1v1h-1zM424 904h1v1h-1zM230 904h1v1h-1zM413 904h1v1h-1zM329 904h1v1h-1zM232 904h2v1h-2zM421 904h1v1h-1zM320 904h3v1h-3zM222 904h1v2h-1zM316 905h1v1h-1zM430 905h1v1h-1zM440 905h1v1h-1zM420 905h2v1h-2zM327 905h2v1h-2zM423 905h1v1h-1zM227 905h4v1h-4zM428 905h1v1h-1zM216 905h1v1h-1zM320 905h1v2h-1zM325 906h1v1h-1zM235 906h1v1h-1zM224 906h1v1h-1zM340 906h1v1h-1zM437 906h1v1h-1zM327 906h1v1h-1zM227 906h1v1h-1zM425 906h1v2h-1zM317 907h2v1h-2zM232 907h1v1h-1zM310 907h2v1h-2zM215 907h1v1h-1zM219 907h1v1h-1zM435 907h1v1h-1zM330 907h3v1h-3zM222 907h1v1h-1zM325 907h2v1h-2zM224 908h2v1h-2zM331 908h1v1h-1zM422 908h3v1h-3zM315 908h1v1h-1zM230 908h1v1h-1zM333 908h1v1h-1zM214 908h1v1h-1zM326 908h1v1h-1zM313 908h1v1h-1zM219 908h2v1h-2zM227 908h1v2h-1zM326 909h2v1h-2zM316 909h1v1h-1zM418 909h1v1h-1zM224 909h1v1h-1zM310 909h1v1h-1zM320 909h2v1h-2zM338 909h2v1h-2zM336 909h1v1h-1zM329 909h1v1h-1zM229 909h1v1h-1zM242 909h1v1h-1zM423 909h3v1h-3zM431 909h1v1h-1zM414 909h1v1h-1zM224 910h2v1h-2zM325 910h1v1h-1zM235 910h1v1h-1zM231 910h2v1h-2zM417 910h1v1h-1zM420 910h5v1h-5zM334 910h1v2h-1zM319 910h1v2h-1zM418 911h1v1h-1zM221 911h2v1h-2zM218 911h1v1h-1zM427 911h1v1h-1zM437 911h1v1h-1zM327 911h1v1h-1zM311 911h1v1h-1zM236 911h1v1h-1zM229 911h1v1h-1zM323 911h1v1h-1zM232 911h2v2h-2zM326 912h1v1h-1zM323 912h2v1h-2zM227 912h1v1h-1zM332 912h1v1h-1zM428 912h2v1h-2zM328 912h2v1h-2zM229 912h2v2h-2zM425 912h1v2h-1zM325 913h1v1h-1zM331 913h1v1h-1zM217 913h1v1h-1zM419 913h2v1h-2zM322 913h2v1h-2zM224 913h3v1h-3zM236 913h1v1h-1zM313 913h1v1h-1zM220 913h1v1h-1zM334 913h1v2h-1zM316 914h1v1h-1zM429 914h1v1h-1zM225 914h1v1h-1zM221 914h1v1h-1zM211 914h1v1h-1zM239 914h1v1h-1zM329 914h1v1h-1zM231 914h1v1h-1zM425 914h2v1h-2zM418 914h2v1h-2zM318 914h2v1h-2zM209 914h1v1h-1zM332 914h1v2h-1zM218 915h1v1h-1zM317 915h1v1h-1zM427 915h1v1h-1zM230 915h1v1h-1zM423 915h1v1h-1zM414 915h1v1h-1zM322 915h1v1h-1zM421 915h1v1h-1zM425 915h1v1h-1zM224 915h1v2h-1zM333 916h3v1h-3zM325 916h1v1h-1zM423 916h2v1h-2zM235 916h1v1h-1zM416 916h2v1h-2zM328 916h1v1h-1zM411 916h1v1h-1zM220 916h1v1h-1zM226 916h4v1h-4zM231 916h1v2h-1zM319 916h1v2h-1zM428 916h1v2h-1zM323 916h1v2h-1zM312 917h1v1h-1zM234 917h1v1h-1zM425 917h2v1h-2zM423 917h1v1h-1zM227 917h1v1h-1zM326 917h3v1h-3zM419 917h1v1h-1zM317 918h2v1h-2zM321 918h2v1h-2zM314 918h1v1h-1zM334 918h1v1h-1zM225 918h1v1h-1zM418 918h1v1h-1zM420 918h3v1h-3zM429 918h1v1h-1zM415 918h1v1h-1zM426 918h1v1h-1zM324 918h3v1h-3zM214 918h1v1h-1zM329 918h2v1h-2zM220 918h1v1h-1zM210 918h1v1h-1zM223 918h1v1h-1zM332 918h1v1h-1zM229 918h1v2h-1zM326 919h2v1h-2zM318 919h1v1h-1zM427 919h1v1h-1zM215 919h1v1h-1zM219 919h1v1h-1zM340 919h1v1h-1zM233 919h1v1h-1zM433 919h1v1h-1zM423 919h1v1h-1zM416 919h1v1h-1zM235 919h3v1h-3zM231 919h1v1h-1zM225 919h2v1h-2zM334 919h2v1h-2zM414 919h1v1h-1zM419 919h1v2h-1zM231 920h3v1h-3zM228 920h2v1h-2zM238 920h1v1h-1zM224 920h1v1h-1zM437 920h1v1h-1zM221 920h1v1h-1zM333 920h1v1h-1zM214 920h1v1h-1zM326 920h1v1h-1zM422 920h2v1h-2zM320 920h1v1h-1zM426 920h3v1h-3zM210 920h1v1h-1zM430 920h1v1h-1zM328 920h2v1h-2zM322 920h1v2h-1zM418 921h1v1h-1zM225 921h4v1h-4zM325 921h1v1h-1zM331 921h1v1h-1zM236 921h2v1h-2zM231 921h2v1h-2zM217 921h1v1h-1zM439 921h1v1h-1zM337 921h1v1h-1zM410 921h1v1h-1zM423 921h3v1h-3zM428 921h1v1h-1zM334 922h1v1h-1zM232 922h1v1h-1zM218 922h1v1h-1zM317 922h1v1h-1zM440 922h1v1h-1zM435 922h1v1h-1zM423 922h1v1h-1zM223 922h2v1h-2zM415 922h3v1h-3zM220 922h1v1h-1zM324 922h3v1h-3zM226 922h1v1h-1zM328 922h2v1h-2zM320 922h1v2h-1zM215 923h1v1h-1zM330 923h1v1h-1zM339 923h1v1h-1zM413 923h1v1h-1zM225 923h1v1h-1zM235 923h1v1h-1zM429 923h2v1h-2zM326 923h1v1h-1zM336 923h1v1h-1zM314 923h2v1h-2zM332 923h1v1h-1zM208 923h1v1h-1zM328 923h1v1h-1zM421 923h2v1h-2zM222 923h1v1h-1zM324 923h1v1h-1zM228 923h1v1h-1zM318 923h1v2h-1zM331 924h1v1h-1zM238 924h1v1h-1zM223 924h3v1h-3zM434 924h1v1h-1zM323 924h3v1h-3zM221 924h1v1h-1zM329 924h1v1h-1zM406 924h1v1h-1zM420 924h6v1h-6zM428 924h1v1h-1zM315 924h2v1h-2zM227 924h3v1h-3zM219 923h1v3h-1zM333 924h1v2h-1zM316 925h1v1h-1zM408 925h1v1h-1zM330 925h1v1h-1zM437 925h1v1h-1zM313 925h1v1h-1zM414 925h1v1h-1zM323 925h1v1h-1zM210 925h2v1h-2zM328 925h1v1h-1zM429 925h1v1h-1zM213 925h1v1h-1zM423 925h3v1h-3zM325 925h2v1h-2zM417 925h2v1h-2zM232 925h1v1h-1zM228 925h1v1h-1zM431 925h2v1h-2zM225 925h1v2h-1zM215 926h1v1h-1zM426 926h1v1h-1zM335 926h1v1h-1zM235 926h1v1h-1zM230 926h1v1h-1zM423 926h1v1h-1zM321 926h3v1h-3zM433 926h1v1h-1zM337 926h1v1h-1zM227 926h1v1h-1zM218 926h1v1h-1zM220 926h2v1h-2zM329 926h1v1h-1zM233 926h1v1h-1zM421 926h1v1h-1zM431 926h1v2h-1zM418 926h1v2h-1zM416 926h1v2h-1zM316 927h1v1h-1zM324 927h1v1h-1zM221 927h5v1h-5zM437 927h1v1h-1zM329 927h2v1h-2zM229 927h2v1h-2zM411 927h1v1h-1zM327 927h1v1h-1zM232 927h2v1h-2zM236 927h1v1h-1zM322 927h1v1h-1zM428 927h1v1h-1zM207 927h1v1h-1zM217 927h1v2h-1zM414 927h1v2h-1zM224 928h2v1h-2zM319 928h1v1h-1zM341 928h2v1h-2zM443 928h1v1h-1zM228 928h1v1h-1zM230 928h1v1h-1zM424 928h1v1h-1zM314 928h3v1h-3zM432 928h1v1h-1zM335 928h2v1h-2zM325 928h2v1h-2zM233 928h1v1h-1zM222 928h1v1h-1zM210 928h1v1h-1zM331 928h2v1h-2zM323 928h1v1h-1zM325 929h1v1h-1zM232 929h1v1h-1zM314 929h1v1h-1zM238 929h1v1h-1zM424 929h4v1h-4zM224 929h1v1h-1zM433 929h1v1h-1zM410 929h1v1h-1zM419 929h2v1h-2zM333 929h3v1h-3zM321 929h3v1h-3zM219 929h2v1h-2zM226 929h4v1h-4zM337 929h1v2h-1zM321 930h2v1h-2zM237 930h2v1h-2zM222 930h3v1h-3zM243 930h1v1h-1zM317 930h1v1h-1zM431 930h1v1h-1zM418 930h3v1h-3zM331 930h3v1h-3zM425 930h1v1h-1zM438 930h1v1h-1zM412 930h1v1h-1zM324 930h2v1h-2zM231 930h1v2h-1zM319 930h1v2h-1zM427 930h2v2h-2zM316 931h1v1h-1zM322 931h2v1h-2zM307 931h1v1h-1zM327 931h1v1h-1zM239 931h1v1h-1zM219 931h2v1h-2zM414 931h1v1h-1zM424 931h1v1h-1zM420 931h1v1h-1zM227 931h1v1h-1zM222 931h1v1h-1zM314 931h1v1h-1zM216 931h2v1h-2zM233 931h1v1h-1zM224 931h1v2h-1zM241 932h1v1h-1zM226 932h3v1h-3zM238 932h1v1h-1zM324 932h1v1h-1zM231 932h2v1h-2zM411 932h2v1h-2zM415 932h1v1h-1zM426 932h1v1h-1zM337 932h1v1h-1zM423 932h1v1h-1zM428 932h2v1h-2zM313 932h1v1h-1zM418 932h2v1h-2zM327 932h3v1h-3zM320 932h3v1h-3zM434 931h1v3h-1zM235 933h2v1h-2zM343 933h1v1h-1zM222 933h3v1h-3zM323 933h2v1h-2zM229 933h1v1h-1zM431 933h1v1h-1zM418 933h1v1h-1zM308 933h1v1h-1zM326 933h1v1h-1zM226 933h1v1h-1zM219 933h2v1h-2zM332 933h1v1h-1zM320 933h2v1h-2zM420 933h10v1h-10zM314 933h1v1h-1zM444 933h1v1h-1zM329 933h1v1h-1zM407 933h1v2h-1zM316 934h1v1h-1zM339 934h1v1h-1zM220 934h1v1h-1zM432 934h1v1h-1zM225 934h1v1h-1zM239 934h1v1h-1zM313 934h1v1h-1zM414 934h1v1h-1zM234 934h3v1h-3zM411 934h1v1h-1zM420 934h1v1h-1zM429 934h1v1h-1zM322 934h3v1h-3zM232 934h1v1h-1zM416 934h1v1h-1zM335 934h2v1h-2zM320 934h1v1h-1zM424 934h3v1h-3zM227 934h3v1h-3zM209 934h1v2h-1zM326 935h5v1h-5zM335 935h1v1h-1zM437 935h1v1h-1zM212 935h1v1h-1zM221 935h4v1h-4zM304 935h1v1h-1zM322 935h1v1h-1zM229 935h3v1h-3zM416 935h2v1h-2zM233 935h2v1h-2zM426 935h2v1h-2zM306 935h1v1h-1zM324 935h1v1h-1zM419 935h3v1h-3zM434 935h1v1h-1zM439 935h1v1h-1zM431 935h2v1h-2zM216 935h2v1h-2zM338 935h1v1h-1zM332 935h1v2h-1zM227 935h1v2h-1zM426 936h5v1h-5zM237 936h1v1h-1zM340 936h1v1h-1zM433 936h1v1h-1zM320 936h2v1h-2zM217 936h4v1h-4zM327 936h1v1h-1zM413 936h1v1h-1zM316 936h2v1h-2zM232 936h2v1h-2zM329 936h1v1h-1zM415 936h2v1h-2zM324 936h2v1h-2zM423 935h2v3h-2zM213 936h1v2h-1zM237 937h2v1h-2zM234 937h1v1h-1zM219 937h1v1h-1zM415 937h1v1h-1zM417 937h1v1h-1zM420 937h2v1h-2zM426 937h1v1h-1zM211 937h1v1h-1zM315 937h3v1h-3zM330 937h1v1h-1zM223 937h8v1h-8zM322 937h1v1h-1zM325 937h2v1h-2zM408 937h2v1h-2zM425 938h3v1h-3zM332 938h2v1h-2zM422 938h1v1h-1zM432 938h1v1h-1zM225 938h1v1h-1zM227 938h2v1h-2zM437 938h1v1h-1zM221 938h1v1h-1zM409 938h1v1h-1zM218 938h2v1h-2zM309 938h1v1h-1zM328 938h1v1h-1zM204 938h1v1h-1zM223 938h1v1h-1zM322 938h3v1h-3zM315 938h1v1h-1zM434 938h1v1h-1zM214 938h1v1h-1zM414 938h6v1h-6zM320 938h1v1h-1zM234 938h2v1h-2zM412 938h1v1h-1zM319 939h1v1h-1zM222 939h3v1h-3zM324 939h5v1h-5zM306 939h1v1h-1zM420 939h3v1h-3zM235 939h1v1h-1zM244 939h1v1h-1zM237 939h1v1h-1zM424 939h1v1h-1zM408 939h1v1h-1zM417 939h1v1h-1zM429 939h2v1h-2zM330 939h1v1h-1zM433 939h3v1h-3zM220 939h1v1h-1zM233 939h1v1h-1zM227 939h3v1h-3zM321 939h1v2h-1zM217 940h2v1h-2zM427 940h1v1h-1zM323 940h3v1h-3zM221 940h1v1h-1zM328 940h4v1h-4zM229 940h2v1h-2zM233 940h2v1h-2zM430 940h3v1h-3zM416 940h7v1h-7zM342 940h1v1h-1zM318 940h2v1h-2zM434 940h2v1h-2zM223 940h4v1h-4zM412 940h1v2h-1zM232 941h1v1h-1zM241 941h1v1h-1zM234 941h1v1h-1zM429 941h6v1h-6zM230 941h1v1h-1zM417 941h2v1h-2zM336 941h1v1h-1zM420 941h4v1h-4zM436 941h1v1h-1zM219 941h2v1h-2zM318 941h8v1h-8zM224 941h5v1h-5zM328 941h2v1h-2zM314 940h1v3h-1zM317 942h2v1h-2zM326 942h2v1h-2zM418 942h4v1h-4zM423 942h8v1h-8zM412 942h3v1h-3zM320 942h5v1h-5zM207 942h1v1h-1zM408 942h1v1h-1zM435 942h1v1h-1zM219 942h4v1h-4zM224 942h3v1h-3zM234 942h2v1h-2zM329 942h4v1h-4zM432 942h1v1h-1zM230 942h3v1h-3zM216 942h1v1h-1zM418 943h1v1h-1zM241 943h1v1h-1zM305 943h1v1h-1zM328 943h5v1h-5zM434 943h1v1h-1zM410 943h1v1h-1zM423 943h1v1h-1zM234 943h3v1h-3zM321 943h1v1h-1zM239 943h1v1h-1zM229 943h4v1h-4zM413 943h1v1h-1zM216 943h2v1h-2zM430 943h2v1h-2zM221 943h6v1h-6zM323 943h4v1h-4zM421 943h1v1h-1zM425 943h1v1h-1zM216 944h4v1h-4zM334 944h1v1h-1zM221 944h2v1h-2zM238 944h1v1h-1zM326 944h5v1h-5zM308 944h1v1h-1zM415 944h1v1h-1zM315 944h10v1h-10zM411 944h1v1h-1zM224 944h13v1h-13zM336 944h1v1h-1zM419 944h8v1h-8zM428 944h8v1h-8zM441 944h2v1h-2zM213 944h1v1h-1zM338 944h1v1h-1zM332 944h1v1h-1zM213 945h3v1h-3zM234 945h1v1h-1zM247 945h1v1h-1zM321 945h5v1h-5zM334 945h2v1h-2zM327 945h2v1h-2zM408 945h1v1h-1zM415 945h7v1h-7zM423 945h5v1h-5zM429 945h4v1h-4zM313 945h1v1h-1zM434 945h2v1h-2zM315 945h5v1h-5zM330 945h3v1h-3zM237 945h3v1h-3zM217 945h15v1h-15zM337 945h2v1h-2zM339 946h1v1h-1zM318 946h17v1h-17zM213 946h2v1h-2zM221 946h1v1h-1zM437 946h1v1h-1zM409 946h1v1h-1zM223 946h5v1h-5zM315 946h2v1h-2zM341 946h1v1h-1zM337 946h1v1h-1zM414 946h22v1h-22zM411 946h1v1h-1zM219 946h1v1h-1zM229 946h8v1h-8zM311 946h1v1h-1zM216 946h2v1h-2zM242 946h1v1h-1zM210 946h1v1h-1zM239 946h1v2h-1zM442 946h1v2h-1zM430 947h4v1h-4zM316 947h7v1h-7zM309 947h1v1h-1zM437 947h2v1h-2zM247 947h1v1h-1zM235 947h1v1h-1zM206 947h1v1h-1zM237 947h1v1h-1zM408 947h1v1h-1zM410 947h1v1h-1zM412 947h17v1h-17zM223 947h8v1h-8zM313 947h1v1h-1zM213 947h7v1h-7zM324 947h12v1h-12zM435 947h1v2h-1zM327 948h2v1h-2zM207 948h1v1h-1zM411 948h5v1h-5zM437 948h1v1h-1zM334 948h3v1h-3zM405 948h1v1h-1zM216 948h3v1h-3zM320 948h5v1h-5zM433 948h1v1h-1zM338 948h2v1h-2zM311 948h8v1h-8zM213 948h1v1h-1zM421 948h11v1h-11zM417 948h2v1h-2zM209 948h1v1h-1zM220 948h2v1h-2zM223 948h19v1h-19zM330 948h3v2h-3zM244 949h2v1h-2zM308 949h2v1h-2zM334 949h4v1h-4zM440 949h1v1h-1zM328 949h1v1h-1zM421 949h15v1h-15zM234 949h6v1h-6zM315 949h12v1h-12zM222 949h11v1h-11zM215 949h6v1h-6zM340 949h3v1h-3zM412 949h8v1h-8zM311 949h3v1h-3zM310 950h2v1h-2zM414 950h4v1h-4zM419 950h9v1h-9zM221 950h11v1h-11zM438 950h2v1h-2zM211 950h1v1h-1zM409 950h1v1h-1zM429 950h4v1h-4zM213 950h4v1h-4zM321 950h16v1h-16zM412 950h1v1h-1zM218 950h2v1h-2zM338 950h1v1h-1zM233 950h4v1h-4zM313 950h7v1h-7zM238 950h2v1h-2zM418 951h1v1h-1zM217 951h8v1h-8zM236 951h2v1h-2zM310 951h11v1h-11zM226 951h6v1h-6zM440 951h1v1h-1zM322 951h12v1h-12zM410 951h1v1h-1zM430 951h3v1h-3zM233 951h2v1h-2zM434 951h3v1h-3zM412 951h5v1h-5zM240 951h1v1h-1zM212 951h3v1h-3zM420 951h7v1h-7zM428 951h1v1h-1zM403 951h1v1h-1zM335 951h5v2h-5zM343 952h1v1h-1zM316 952h7v1h-7zM424 952h4v1h-4zM310 952h1v1h-1zM236 952h5v1h-5zM411 952h2v1h-2zM324 952h3v1h-3zM429 952h5v1h-5zM416 952h7v1h-7zM242 952h2v1h-2zM442 952h1v1h-1zM313 952h1v1h-1zM328 952h6v1h-6zM211 952h7v1h-7zM219 952h15v1h-15zM437 952h1v2h-1zM206 953h1v1h-1zM409 953h5v1h-5zM307 953h1v1h-1zM405 953h2v1h-2zM432 953h4v1h-4zM442 953h2v1h-2zM217 953h2v1h-2zM220 953h22v1h-22zM243 953h1v1h-1zM311 953h24v1h-24zM336 953h4v1h-4zM309 953h1v1h-1zM204 953h1v1h-1zM342 953h1v1h-1zM419 953h12v1h-12zM211 953h5v1h-5zM246 953h1v1h-1zM415 953h3v1h-3zM436 954h3v1h-3zM218 954h14v1h-14zM311 954h22v1h-22zM210 954h3v1h-3zM233 954h6v1h-6zM308 954h1v1h-1zM444 954h1v1h-1zM340 954h1v1h-1zM417 954h1v1h-1zM334 954h3v1h-3zM240 954h1v1h-1zM214 954h3v1h-3zM419 954h11v1h-11zM338 954h1v1h-1zM410 954h6v1h-6zM431 954h4v1h-4zM405 954h1v1h-1zM238 955h4v1h-4zM222 955h15v1h-15zM327 955h14v1h-14zM409 955h30v1h-30zM445 955h1v1h-1zM310 955h16v1h-16zM210 955h1v1h-1zM212 955h9v1h-9zM443 955h1v2h-1zM440 955h1v2h-1zM436 956h3v1h-3zM211 956h3v1h-3zM404 956h1v1h-1zM408 956h27v1h-27zM215 956h4v1h-4zM338 956h2v1h-2zM246 956h1v1h-1zM309 956h6v1h-6zM234 956h6v1h-6zM316 956h21v1h-21zM220 956h13v1h-13zM242 956h1v2h-1zM245 957h1v1h-1zM318 957h1v1h-1zM413 957h3v1h-3zM432 957h7v1h-7zM308 957h1v1h-1zM211 957h2v1h-2zM408 957h4v1h-4zM214 957h5v1h-5zM225 957h16v1h-16zM418 957h13v1h-13zM335 957h2v1h-2zM310 957h7v1h-7zM220 957h4v1h-4zM320 957h14v1h-14zM207 957h2v1h-2zM338 957h4v1h-4zM438 958h3v1h-3zM309 958h1v1h-1zM244 958h1v1h-1zM342 958h2v1h-2zM209 958h6v1h-6zM316 958h22v1h-22zM339 958h1v1h-1zM408 958h20v1h-20zM429 958h8v1h-8zM311 958h4v1h-4zM216 958h11v1h-11zM228 958h15v1h-15zM211 959h8v1h-8zM312 959h19v1h-19zM418 959h13v1h-13zM435 959h1v1h-1zM437 959h1v1h-1zM241 959h2v1h-2zM304 959h1v1h-1zM332 959h8v1h-8zM432 959h2v1h-2zM220 959h20v1h-20zM445 959h1v1h-1zM408 959h9v1h-9zM209 959h1v1h-1zM406 959h1v2h-1zM308 960h2v1h-2zM436 960h2v1h-2zM408 960h27v1h-27zM344 960h1v1h-1zM338 960h2v1h-2zM439 960h1v1h-1zM210 960h5v1h-5zM216 960h28v1h-28zM311 960h26v1h-26zM441 960h1v1h-1zM341 960h1v1h-1zM247 960h1v2h-1zM241 961h1v1h-1zM416 961h25v1h-25zM406 961h9v1h-9zM216 961h22v1h-22zM209 961h6v1h-6zM345 961h1v1h-1zM335 961h5v1h-5zM309 961h25v1h-25zM243 961h2v1h-2zM343 961h1v2h-1zM309 962h1v1h-1zM332 962h10v1h-10zM244 962h1v1h-1zM408 962h1v1h-1zM311 962h20v1h-20zM210 962h33v1h-33zM436 962h6v1h-6zM410 962h25v1h-25zM216 963h17v1h-17zM434 963h7v1h-7zM420 963h12v1h-12zM444 963h1v1h-1zM442 963h1v1h-1zM210 963h5v1h-5zM234 963h9v1h-9zM308 963h35v1h-35zM207 963h1v1h-1zM205 963h1v1h-1zM407 963h12v1h-12zM440 964h2v1h-2zM343 964h1v1h-1zM241 964h4v1h-4zM208 964h32v1h-32zM406 964h33v1h-33zM340 964h2v1h-2zM307 964h32v1h-32zM215 965h27v1h-27zM309 965h26v1h-26zM406 965h9v1h-9zM440 965h1v1h-1zM207 965h1v1h-1zM435 965h4v1h-4zM305 965h2v1h-2zM416 965h17v1h-17zM336 965h7v1h-7zM209 965h5v1h-5zM243 965h2v1h-2zM309 966h33v1h-33zM343 966h1v1h-1zM207 966h3v1h-3zM405 966h3v1h-3zM211 966h33v1h-33zM409 966h4v1h-4zM442 966h3v1h-3zM306 966h2v1h-2zM414 966h27v1h-27zM402 967h1v1h-1zM245 967h1v1h-1zM309 967h20v1h-20zM407 967h2v1h-2zM210 967h6v1h-6zM344 967h1v1h-1zM305 967h3v1h-3zM217 967h26v1h-26zM330 967h13v1h-13zM410 967h32v1h-32zM206 967h2v1h-2zM443 967h1v2h-1zM343 968h1v1h-1zM242 968h3v1h-3zM306 968h1v1h-1zM214 968h27v1h-27zM207 968h6v1h-6zM445 968h1v1h-1zM406 968h36v1h-36zM308 968h34v1h-34zM344 969h1v1h-1zM340 969h3v1h-3zM208 969h38v1h-38zM405 969h2v1h-2zM437 969h6v1h-6zM408 969h28v1h-28zM307 969h32v1h-32zM346 969h1v2h-1zM402 970h1v1h-1zM444 970h2v1h-2zM307 970h37v1h-37zM404 970h39v1h-39zM209 970h38v1h-38zM304 970h1v1h-1zM206 970h2v2h-2zM403 971h43v1h-43zM209 971h37v1h-37zM344 971h1v2h-1zM305 971h38v2h-38zM207 972h38v1h-38zM443 972h2v1h-2zM405 972h37v1h-37zM403 972h1v2h-1zM206 973h40v1h-40zM247 973h1v1h-1zM306 973h39v1h-39zM303 973h2v1h-2zM405 973h40v1h-40zM306 974h37v1h-37zM402 974h1v1h-1zM404 974h42v1h-42zM207 974h41v1h-41zM304 974h1v1h-1zM344 974h3v1h-3zM208 975h40v1h-40zM345 975h2v1h-2zM405 975h38v1h-38zM304 975h40v1h-40zM205 975h2v1h-2zM299 976h52v48h-52zM201 976h51v48h-51zM398 976h52v48h-52zM202 1024h47v1h-47zM300 1024h50v1h-50zM398 1024h4v1h-4zM403 1024h46v1h-46zM402 1025h1v1h-1zM441 1025h7v1h-7zM306 1025h1v1h-1zM308 1025h36v1h-36zM346 1025h1v1h-1zM207 1025h41v1h-41zM405 1025h35v1h-35zM249 1025h1v1h-1zM348 1025h2v1h-2zM303 1025h1v1h-1zM203 1025h1v1h-1zM343 1026h1v1h-1zM403 1026h1v1h-1zM214 1026h28v1h-28zM243 1026h1v1h-1zM210 1026h3v1h-3zM407 1026h34v1h-34zM301 1026h1v1h-1zM345 1026h2v1h-2zM442 1026h4v1h-4zM204 1026h1v1h-1zM206 1026h3v1h-3zM308 1026h32v1h-32zM245 1026h2v1h-2zM304 1026h1v1h-1zM348 1026h1v1h-1zM405 1026h1v1h-1zM341 1026h1v1h-1zM307 1027h2v1h-2zM310 1027h1v1h-1zM340 1027h1v1h-1zM438 1027h2v1h-2zM442 1027h1v1h-1zM211 1027h1v1h-1zM312 1027h2v1h-2zM413 1027h24v1h-24zM240 1027h1v1h-1zM242 1027h1v1h-1zM213 1027h26v1h-26zM315 1027h24v1h-24zM410 1027h2v1h-2zM333 1028h3v1h-3zM320 1028h6v1h-6zM430 1028h4v1h-4zM337 1028h3v1h-3zM216 1028h10v1h-10zM237 1028h1v1h-1zM409 1028h2v1h-2zM413 1028h2v1h-2zM302 1028h1v1h-1zM227 1028h1v1h-1zM327 1028h4v1h-4zM229 1028h7v1h-7zM314 1028h5v1h-5zM210 1028h1v1h-1zM417 1028h12v1h-12zM403 1028h1v1h-1zM312 1028h1v2h-1zM214 1028h1v2h-1zM420 1029h3v1h-3zM408 1029h1v1h-1zM321 1029h1v1h-1zM330 1029h1v1h-1zM332 1029h2v1h-2zM436 1029h1v1h-1zM303 1029h1v1h-1zM216 1029h1v1h-1zM225 1029h1v1h-1zM212 1029h1v1h-1zM219 1029h5v1h-5zM415 1029h1v1h-1zM424 1029h1v1h-1zM317 1029h3v1h-3zM238 1029h2v1h-2zM231 1029h3v1h-3zM428 1029h6v1h-6zM323 1029h6v1h-6zM338 1029h1v1h-1zM227 1029h3v1h-3zM417 1029h2v2h-2zM439 1029h1v2h-1zM326 1030h2v1h-2zM231 1030h2v1h-2zM413 1030h1v1h-1zM220 1030h1v1h-1zM318 1030h2v1h-2zM331 1030h1v1h-1zM400 1030h1v1h-1zM405 1030h1v1h-1zM420 1030h1v1h-1zM222 1030h1v1h-1zM322 1030h3v1h-3zM241 1030h1v1h-1zM226 1030h3v1h-3zM434 1030h1v1h-1zM218 1030h1v1h-1zM310 1030h1v1h-1zM329 1030h1v1h-1zM196 1030h1v1h-1zM422 1030h1v2h-1zM425 1030h1v2h-1zM317 1031h2v1h-2zM193 1031h1v1h-1zM314 1031h1v1h-1zM402 1031h1v1h-1zM427 1031h2v1h-2zM228 1031h1v1h-1zM344 1031h1v1h-1zM330 1031h1v1h-1zM336 1031h1v1h-1zM447 1031h1v1h-1zM303 1031h1v1h-1zM210 1031h1v1h-1zM323 1031h1v1h-1zM239 1032h1v1h-1zM197 1032h1v1h-1zM329 1032h1v1h-1zM232 1032h1v1h-1zM415 1033h1v1h-1zM253 1033h1v1h-1zM420 1033h1v1h-1zM431 1033h1v1h-1zM223 1033h1v1h-1zM403 1033h1v1h-1zM419 1034h1v1h-1zM225 1034h1v1h-1zM315 1035h1v1h-1zM404 1035h1v1h-1zM306 1035h1v1h-1zM341 1035h1v1h-1zM415 1036h1v1h-1zM236 1036h1v1h-1zM229 1036h1v1h-1zM319 1036h1v1h-1zM425 1036h1v1h-1zM445 1037h1v1h-1zM233 1037h1v1h-1zM234 1038h1v1h-1zM237 1039h1v1h-1zM243 1041h1v1h-1zM406 1043h1v1h-1zM213 1048h1v1h-1zM325 1050h1v1h-1zM426 1053h1v1h-1zM332 1054h1v1h-1zM427 1058h1v1h-1z" fill="#0000ff"/>
<ellipse cx="226.4" cy="1003" rx="19" ry="15.5" fill="url(#dg)"/>
<ellipse cx="325" cy="1003" rx="19" ry="15.5" fill="url(#dg)"/>
<ellipse cx="424" cy="1003" rx="19" ry="15.5" fill="url(#dg)"/>
<rect x="190.7" y="725.7" width="65.3" height="145.6" fill="none" stroke="#000" stroke-width="2.6"/>
<rect x="290.7" y="725.7" width="65.3" height="145.6" fill="none" stroke="#000" stroke-width="2.6"/>
<rect x="390" y="725.7" width="65.7" height="145.6" fill="none" stroke="#000" stroke-width="2.6"/>
<path d="M123.3 952h4M123.3 935.7h4M123.3 924.1h4M123.3 907.8h4M123.3 901.6h4M123.3 896.3h4M123.3 891.5h4M123.3 858.5h4M123.3 841.7h4M123.3 829.7h4M123.3 812.9h4M123.3 806.5h4M123.3 801h4M123.3 796.1h4M123.3 764.6h4M123.3 748.8h4M123.3 737.5h4M123.3 721.7h4M123.3 715.6h4M123.3 710.4h4M123.3 705.8h4M123.3 674.6h4M123.3 993.9h4M123.3 1010.7h4M123.3 988.3h4M123.3 1016.3h4M123.3 982.7h4M123.3 1021.9h4M123.3 1052.4h4" fill="none" stroke="#222" stroke-width="1.8"/>
<path d="M121.3 915.2h6M121.3 820.5h6M121.3 728.8h6" fill="none" stroke="#222" stroke-width="2.2"/>
<path d="M118.8 979.9h8.5M118.8 887.3h8.5M118.8 791.7h8.5M118.8 701.7h8.5M118.8 1024.5h8.5" fill="none" stroke="#222" stroke-width="3.4"/>
<rect x="122.3" y="998.1" width="5" height="8.4" fill="#222"/><rect x="118.8" y="998.8" width="8.5" height="7" fill="#222"/>
<rect x="127.3" y="665.3" width="396" height="396.7" fill="none" stroke="#111" stroke-width="1.5"/>
<text x="105" y="711.2" text-anchor="end">10<tspan dy="-12.4" font-size="17.8">5</tspan></text>
<text x="105" y="801.5" text-anchor="end">10<tspan dy="-12.4" font-size="17.8">4</tspan></text>
<text x="105" y="897.6" text-anchor="end">10<tspan dy="-12.4" font-size="17.8">3</tspan></text>
<text x="105" y="1011.3" text-anchor="end">0</text>
<text x="222.7" y="1096" text-anchor="middle">31</text>
<text x="322.3" y="1096" text-anchor="middle">120</text>
<text x="427.3" y="1096" text-anchor="middle">396</text>
<text x="325" y="1135.6" text-anchor="middle">Time after symptom onset (d)</text>
<text x="324.5" y="650.2" text-anchor="middle">Gate: CD4<tspan dy="-10.5" font-size="17.8">+</tspan></text>
<text x="37.3" y="864.7" text-anchor="middle" transform="rotate(-90 37.3 864.7)">S<tspan dy="8.6" font-size="17.8">751</tspan><tspan dy="-8.6"> tet PE</tspan></text>
<text x="212.8" y="713.5" text-anchor="middle">0.011%</text>
<text x="327" y="713.5" text-anchor="middle">0.003%</text>
<text x="437" y="713.5" text-anchor="middle">0.003%</text>
</g>
<g id="pc2">
<line x1="892" y1="643.7" x2="892" y2="752" stroke="#2a2a2a" stroke-width="1.3"/>
<line x1="882" y1="752" x2="902" y2="752" stroke="#2a2a2a" stroke-width="1.3"/>
<line x1="892" y1="786.7" x2="892" y2="1038.3" stroke="#2a2a2a" stroke-width="1.3"/>
<line x1="882" y1="786.7" x2="902" y2="786.7" stroke="#2a2a2a" stroke-width="1.3"/>
<line x1="877.7" y1="1038.3" x2="1584" y2="1038.3" stroke="#2a2a2a" stroke-width="1.3"/>
<line x1="877.7" y1="643.7" x2="892" y2="643.7" stroke="#2a2a2a" stroke-width="1.3"/>
<text x="863.5" y="653.3" text-anchor="end">0.060</text>
<line x1="877.7" y1="690.7" x2="892" y2="690.7" stroke="#2a2a2a" stroke-width="1.3"/>
<text x="863.5" y="700.3" text-anchor="end">0.040</text>
<line x1="877.7" y1="738.3" x2="892" y2="738.3" stroke="#2a2a2a" stroke-width="1.3"/>
<text x="863.5" y="747.9" text-anchor="end">0.020</text>
<line x1="877.7" y1="864.3" x2="892" y2="864.3" stroke="#2a2a2a" stroke-width="1.3"/>
<text x="863.5" y="873.9" text-anchor="end">0.010</text>
<line x1="877.7" y1="951" x2="892" y2="951" stroke="#2a2a2a" stroke-width="1.3"/>
<text x="863.5" y="960.6" text-anchor="end">0.005</text>
<line x1="877.7" y1="1038.3" x2="892" y2="1038.3" stroke="#2a2a2a" stroke-width="1.3"/>
<text x="863.5" y="1047.9" text-anchor="end">0</text>
<line x1="892" y1="1038.3" x2="892" y2="1052.3" stroke="#2a2a2a" stroke-width="1.3"/>
<text x="892" y="1084.5" text-anchor="middle">0</text>
<line x1="1030.3" y1="1038.3" x2="1030.3" y2="1052.3" stroke="#2a2a2a" stroke-width="1.3"/>
<text x="1030.3" y="1084.5" text-anchor="middle">100</text>
<line x1="1168.7" y1="1038.3" x2="1168.7" y2="1052.3" stroke="#2a2a2a" stroke-width="1.3"/>
<text x="1168.7" y="1084.5" text-anchor="middle">200</text>
<line x1="1307" y1="1038.3" x2="1307" y2="1052.3" stroke="#2a2a2a" stroke-width="1.3"/>
<text x="1307" y="1084.5" text-anchor="middle">300</text>
<line x1="1445.4" y1="1038.3" x2="1445.4" y2="1052.3" stroke="#2a2a2a" stroke-width="1.3"/>
<text x="1445.4" y="1084.5" text-anchor="middle">400</text>
<line x1="1583.8" y1="1038.3" x2="1583.8" y2="1052.3" stroke="#2a2a2a" stroke-width="1.3"/>
<text x="1583.8" y="1084.5" text-anchor="middle">500</text>
<text x="1236.5" y="1128.5" text-anchor="middle">Time after symptom onset (d)</text>
<text x="763.5" y="840.5" text-anchor="middle" letter-spacing="0.15" transform="rotate(-90 763.5 840.5)">TET<tspan dy="8.6" font-size="17.8">751</tspan><tspan dy="-19.2" font-size="17.8">+</tspan><tspan dy="10.5"> (%) of total CD4</tspan><tspan dy="-10.5" font-size="17.8">+</tspan></text>
<text x="976" y="673.5">T<tspan dy="8.6" font-size="17.8">1/2</tspan><tspan dy="-8.6"> (early) = 20 d (95% CI 13–30 d)</tspan></text>
<text x="1182.5" y="818.5">T<tspan dy="8.6" font-size="17.8">1/2</tspan><tspan dy="-8.6"> (late) = 377 d (95% CI 283–503 d)</tspan></text>
<clipPath id="c2lo"><rect x="893" y="786.7" width="700" height="260"/></clipPath>
<clipPath id="c2up"><rect x="893" y="640" width="700" height="112.3"/></clipPath>
<g clip-path="url(#c2up)">
<path d="M940 673.3L983 730.7L1068.3 741.7L1214.3 751.7L1417.7 732M929 710L986.7 752M948.3 732.7L981.7 752M923 733L927.3 741L936.7 748.7M946 750L956.7 752" fill="none" stroke="#000" stroke-width="2"/>
</g>
<g clip-path="url(#c2lo)">
<path d="M937.9 785.4L937.2 802.1L948.1 887.4L968.9 921.7L978.1 951.7M953.9 785.4L959.7 793.1L986.7 837.5L1011.8 856.1L1060.4 908.2L1170.3 929L1482.7 953M970 785.4L988.2 827.4L1008.1 839L1056.1 843.9L1092.1 856.1L1153.2 864.7L1208.5 882.1L1442.3 960M972.1 785.4L977.5 828.3L977.5 867.7L1057.4 923.8L1093.8 949.6L1190.7 982.8L1453.7 989.7M1023.6 785.4L1174 906.5L1513 911.7M1051.4 785.4L1204.6 866.4L1408.7 951.7M962.5 831.7L940 859.6M962.5 831.7L1030 916.8L1056.8 968.2M977.5 828.3L1008.1 839L1056.1 843.9M986.7 837.5L1011.8 856.1L1079.9 894.3L1184.3 927.5L1443.7 918.3M1011.8 856.1L1191.1 923.8L1456.3 878.3M934.6 843.9L977.5 867.7L1181 895.3L1413.3 948.3M936.1 849.7L988.6 916.8L1057.4 984.9M940 859.6L981.8 946.1L1063.2 954.7L1169.7 988.1L1387.3 1002M937.2 873.5L956.7 906.5L995.7 963.9L1060.4 1001.8L1201.4 1005.7L1500.7 1004M978.1 951.7L1060.4 908.2L1186.8 867.7L1204.6 866.4M981.8 946.1L1063.2 954.7M988.6 916.8L1056.8 968.2L1072.8 986L1128.6 970.8L1205.7 995.4L1481.7 993.3M931.9 948.3L982.8 977.4L1010.7 982.8L1072.8 986L1170.3 929M1010.7 982.8L1057.4 984.9L1187.9 1012.1L1459 1027.7M995.7 963.9L1060.4 1001.8M1030 916.8L1093.8 949.6L1413.3 972.3M1057.4 923.8L1181 946.3L1439.3 982.7M1079.9 894.3L1195 938.2L1397 986.3M1060.4 1001.8L1205.7 995.4L1514.3 1019M1092.1 856.1L1174 906.5M1011.8 856.1L1181 946.3M1056.1 843.9L1195 938.2" fill="none" stroke="#000" stroke-width="2"/>
</g>
<g fill="#000"><circle cx="940" cy="673.3" r="7.7"/><circle cx="929" cy="710" r="7.7"/><circle cx="923" cy="733" r="7.7"/><circle cx="927.3" cy="741" r="7.7"/><circle cx="948.3" cy="732.7" r="7.7"/><circle cx="936.7" cy="748.7" r="7.7"/><circle cx="946" cy="750" r="7.7"/><circle cx="983" cy="730.7" r="7.7"/><circle cx="1068.3" cy="741.7" r="7.7"/><circle cx="1214.3" cy="751.7" r="7.7"/><circle cx="1417.7" cy="732" r="7.7"/><circle cx="937.2" cy="802.1" r="7.7"/><circle cx="959.7" cy="793.1" r="7.7"/><circle cx="962.5" cy="831.7" r="7.7"/><circle cx="977.5" cy="828.3" r="7.7"/><circle cx="988.2" cy="827.4" r="7.7"/><circle cx="986.7" cy="837.5" r="7.7"/><circle cx="1008.1" cy="839" r="7.7"/><circle cx="1056.1" cy="843.9" r="7.7"/><circle cx="934.6" cy="843.9" r="7.7"/><circle cx="936.1" cy="849.7" r="7.7"/><circle cx="940" cy="859.6" r="7.7"/><circle cx="1011.8" cy="856.1" r="7.7"/><circle cx="1092.1" cy="856.1" r="7.7"/><circle cx="1153.2" cy="864.7" r="7.7"/><circle cx="1186.8" cy="867.7" r="7.7"/><circle cx="1204.6" cy="866.4" r="7.7"/><circle cx="1208.5" cy="882.1" r="7.7"/><circle cx="977.5" cy="867.7" r="7.7"/><circle cx="937.2" cy="873.5" r="7.7"/><circle cx="948.1" cy="887.4" r="7.7"/><circle cx="1079.9" cy="894.3" r="7.7"/><circle cx="1181" cy="895.3" r="7.7"/><circle cx="1174" cy="906.5" r="7.7"/><circle cx="956.7" cy="906.5" r="7.7"/><circle cx="1060.4" cy="908.2" r="7.7"/><circle cx="988.6" cy="916.8" r="7.7"/><circle cx="1030" cy="916.8" r="7.7"/><circle cx="1057.4" cy="923.8" r="7.7"/><circle cx="968.9" cy="921.7" r="7.7"/><circle cx="1191.1" cy="923.8" r="7.7"/><circle cx="1184.3" cy="927.5" r="7.7"/><circle cx="1170.3" cy="929" r="7.7"/><circle cx="1195" cy="938.2" r="7.7"/><circle cx="1181" cy="946.3" r="7.7"/><circle cx="931.9" cy="948.3" r="7.7"/><circle cx="981.8" cy="946.1" r="7.7"/><circle cx="978.1" cy="951.7" r="7.7"/><circle cx="1093.8" cy="949.6" r="7.7"/><circle cx="1063.2" cy="954.7" r="7.7"/><circle cx="995.7" cy="963.9" r="7.7"/><circle cx="1056.8" cy="968.2" r="7.7"/><circle cx="1128.6" cy="970.8" r="7.7"/><circle cx="982.8" cy="977.4" r="7.7"/><circle cx="1010.7" cy="982.8" r="7.7"/><circle cx="1057.4" cy="984.9" r="7.7"/><circle cx="1072.8" cy="986" r="7.7"/><circle cx="1190.7" cy="982.8" r="7.7"/><circle cx="1169.7" cy="988.1" r="7.7"/><circle cx="1205.7" cy="995.4" r="7.7"/><circle cx="1060.4" cy="1001.8" r="7.7"/><circle cx="1201.4" cy="1005.7" r="7.7"/><circle cx="1187.9" cy="1012.1" r="7.7"/><circle cx="1456.3" cy="878.3" r="7.7"/><circle cx="1513" cy="911.7" r="7.7"/><circle cx="1443.7" cy="918.3" r="7.7"/><circle cx="1413.3" cy="948.3" r="7.7"/><circle cx="1408.7" cy="951.7" r="7.7"/><circle cx="1482.7" cy="953" r="7.7"/><circle cx="1442.3" cy="960" r="7.7"/><circle cx="1413.3" cy="972.3" r="7.7"/><circle cx="1439.3" cy="982.7" r="7.7"/><circle cx="1397" cy="986.3" r="7.7"/><circle cx="1453.7" cy="989.7" r="7.7"/><circle cx="1481.7" cy="993.3" r="7.7"/><circle cx="1387.3" cy="1002" r="7.7"/><circle cx="1500.7" cy="1004" r="7.7"/><circle cx="1514.3" cy="1019" r="7.7"/><circle cx="1459" cy="1027.7" r="7.7"/></g>
</g>
<g id="pd1">
<text transform="translate(6.8 1219.2) scale(0.88 1)" font-size="33.8" font-weight="bold">d</text>
<path d="M311 1457h6v1h-6zM311 1458h9v5h-9zM314 1463h6v1h-6zM306 1469h6v6h-6zM292 1469h6v6h-6zM311 1487h6v2h-6zM303 1488h6v1h-6zM303 1489h14v4h-14zM303 1493h12v1h-12zM280 1489h6v6h-6zM269 1489h6v6h-6zM294 1489h8v6h-8zM306 1494h9v1h-9zM295 1495h6v1h-6zM306 1495h6v2h-6zM315 1496h6v5h-6zM309 1501h12v1h-12zM299 1497h6v6h-6zM284 1498h6v6h-6zM309 1502h6v4h-6zM297 1503h6v4h-6zM309 1506h11v1h-11zM297 1507h8v2h-8zM286 1509h6v1h-6zM261 1505h6v6h-6zM314 1507h6v5h-6zM299 1509h6v4h-6zM286 1510h7v5h-7zM287 1515h6v1h-6zM282 1518h6v2h-6zM303 1520h6v1h-6zM301 1521h8v1h-8zM280 1520h8v4h-8zM301 1522h9v2h-9zM301 1524h15v1h-15zM291 1520h6v6h-6zM280 1524h6v2h-6zM299 1525h17v5h-17zM299 1530h11v1h-11zM290 1528h6v4h-6zM286 1532h10v2h-10zM299 1532h6v4h-6zM286 1534h6v2h-6zM286 1536h12v2h-12zM299 1536h8v2h-8zM292 1538h6v1h-6zM267 1534h6v6h-6zM278 1535h6v6h-6zM301 1538h10v4h-10zM287 1539h11v4h-11zM305 1542h6v2h-6zM282 1543h16v2h-16zM289 1545h9v1h-9zM272 1541h6v6h-6zM282 1545h6v2h-6zM290 1546h10v2h-10zM277 1547h11v1h-11zM277 1548h26v1h-26zM308 1548h6v1h-6zM285 1549h18v2h-18zM308 1549h11v2h-11zM277 1549h6v2h-6zM277 1551h26v1h-26zM308 1551h15v1h-15zM277 1552h15v1h-15zM295 1552h8v2h-8zM279 1553h13v1h-13zM279 1554h12v1h-12zM296 1554h7v1h-7zM307 1552h16v4h-16zM279 1555h10v1h-10zM296 1555h10v2h-10zM307 1556h20v1h-20zM279 1556h16v1h-16zM296 1557h23v2h-23zM283 1557h12v3h-12zM297 1559h22v1h-22zM268 1558h6v3h-6zM321 1557h6v5h-6zM283 1560h36v2h-36zM268 1561h12v1h-12zM293 1562h26v1h-26zM268 1562h24v2h-24zM293 1563h16v2h-16zM274 1564h18v1h-18zM274 1565h33v2h-33zM256 1562h6v6h-6zM276 1567h31v1h-31zM310 1563h8v6h-8zM276 1568h32v5h-32zM276 1573h12v1h-12zM289 1573h19v1h-19zM273 1574h35v1h-35zM266 1571h6v6h-6zM273 1575h42v2h-42zM273 1577h44v2h-44zM281 1579h36v1h-36zM273 1579h6v1h-6zM289 1580h28v1h-28zM281 1580h6v2h-6zM295 1581h28v2h-28zM281 1582h9v2h-9zM291 1583h18v2h-18zM313 1583h10v2h-10zM298 1585h25v1h-25zM284 1584h6v3h-6zM291 1585h6v2h-6zM300 1586h6v1h-6zM308 1586h15v1h-15zM271 1582h6v6h-6zM300 1587h21v1h-21zM246 1583h6v6h-6zM278 1587h19v2h-19zM315 1588h6v2h-6zM278 1589h14v1h-14zM303 1588h11v3h-11zM275 1590h17v3h-17zM303 1591h8v3h-8zM275 1593h16v1h-16zM275 1594h6v2h-6zM285 1594h9v4h-9zM288 1598h6v2h-6zM323 1596h6v6h-6zM310 1597h6v6h-6z" fill="#0a0aff"/>
<path d="M293 1557h6v6h-6zM279 1571h6v6h-6zM291 1575h6v5h-6zM291 1580h8v1h-8zM293 1581h6v2h-6zM277 1579h6v6h-6zM293 1583h8v3h-8zM295 1586h6v3h-6z" fill="#e83010"/>
<rect x="202.9" y="1388.9" width="153.1" height="156.6" fill="none" stroke="#222" stroke-width="1.4"/>
<line x1="356" y1="1388.9" x2="356" y2="1545.5" stroke="#000" stroke-width="2"/>
<path d="M95.4 1488.7h4M95.4 1473.6h4M95.4 1462.8h4M95.4 1447.7h4M95.4 1441.9h4M95.4 1436.9h4M95.4 1432.5h4M95.4 1405.8h4M95.4 1392.5h4M95.4 1383.1h4M95.4 1369.8h4M95.4 1364.7h4M95.4 1360.3h4M95.4 1356.5h4M95.4 1330.2h4M95.4 1560.9h4M95.4 1609.7h4M95.4 1550.7h4M95.4 1619.9h4M95.4 1541.8h4M95.4 1628.8h4M95.4 1535.3h4M95.4 1635.3h4M95.4 1529.9h4M95.4 1640.7h4M95.4 1525.7h4M95.4 1644.9h4M95.4 1521.5h4M95.4 1649.1h4M95.4 1518h4M264.3 1651.5v4M278.3 1651.5v4M288.2 1651.5v4M302.2 1651.5v4M307.5 1651.5v4M312.1 1651.5v4M316.2 1651.5v4M343.2 1651.5v4M356.9 1651.5v4M366.6 1651.5v4M380.3 1651.5v4M385.5 1651.5v4M390.1 1651.5v4M394 1651.5v4M421 1651.5v4M182.5 1651.5v4M121.5 1651.5v4M195.2 1651.5v4M108.8 1651.5v4M206.4 1651.5v4M214.5 1651.5v4M221.2 1651.5v4M226.5 1651.5v4M231.8 1651.5v4M236.2 1651.5v4" fill="none" stroke="#222" stroke-width="1.8"/>
<path d="M93.4 1454.5h6M93.4 1375.8h6M295.9 1651.5v6M374.2 1651.5v6" fill="none" stroke="#222" stroke-width="2.2"/>
<path d="M90.9 1514.6h8.5M90.9 1428.6h8.5M90.9 1353h8.5M240.4 1651.5v8.5M319.8 1651.5v8.5M397.6 1651.5v8.5" fill="none" stroke="#222" stroke-width="3.4"/>
<rect x="94.4" y="1573.3" width="5" height="24" fill="#222"/><rect x="90.9" y="1581.8" width="8.5" height="7" fill="#222"/><rect x="135" y="1651.5" width="34" height="5" fill="#111"/><rect x="142.5" y="1651.5" width="19" height="8" fill="#111"/>
<line x1="99.4" y1="1321.8" x2="429.6" y2="1321.8" stroke="#222" stroke-width="1.5" stroke-linecap="square"/>
<line x1="429.6" y1="1321.8" x2="429.6" y2="1651.5" stroke="#333" stroke-width="1.5" stroke-linecap="square"/>
<line x1="99.4" y1="1651.5" x2="429.6" y2="1651.5" stroke="#000" stroke-width="2.2" stroke-linecap="square"/>
<line x1="99.4" y1="1321.8" x2="99.4" y2="1651.5" stroke="#000" stroke-width="2.2" stroke-linecap="square"/>
<text x="79.4" y="1360.9" text-anchor="end">10<tspan dy="-12.4" font-size="17.8">5</tspan></text>
<text x="79.4" y="1436.8" text-anchor="end">10<tspan dy="-12.4" font-size="17.8">4</tspan></text>
<text x="79.4" y="1521.7" text-anchor="end">10<tspan dy="-12.4" font-size="17.8">3</tspan></text>
<text x="79.4" y="1593.7" text-anchor="end">0</text>
<text x="158" y="1697.7" text-anchor="middle">0</text>
<text x="241.5" y="1697.7" text-anchor="middle">10<tspan dy="-12.4" font-size="17.8">3</tspan></text>
<text x="321.7" y="1697.7" text-anchor="middle">10<tspan dy="-12.4" font-size="17.8">4</tspan></text>
<text x="400" y="1697.7" text-anchor="middle">10<tspan dy="-12.4" font-size="17.8">5</tspan></text>
<text x="261" y="1304.8" text-anchor="middle">Day 33</text>
<text x="285" y="1372.7" text-anchor="middle">27.404%</text>
<text x="19.7" y="1485.6" text-anchor="middle" transform="rotate(-90 19.7 1485.6)">CD38 A700</text>
<text x="95" y="1738.2">CD3 BUV395</text>
<line x1="265" y1="1730.4" x2="836" y2="1730.4" stroke="#000" stroke-width="2.3"/>
<path d="M844 1730.4l-14.5 -8.2l3.2 8.2l-3.2 8.2z" fill="#000"/>
</g>
<g id="pd2">
<path d="M724 1538h6v6h-6zM708 1538h6v6h-6zM716 1547h6v6h-6zM658 1549h6v6h-6zM729 1551h6v6h-6zM706 1556h6v4h-6zM720 1557h6v5h-6zM706 1560h13v2h-13zM720 1562h10v1h-10zM708 1562h11v3h-11zM700 1564h6v1h-6zM700 1565h19v1h-19zM724 1563h6v5h-6zM688 1563h6v6h-6zM700 1566h9v3h-9zM700 1569h15v1h-15zM670 1566h6v6h-6zM679 1566h6v6h-6zM731 1568h6v5h-6zM703 1570h12v3h-12zM693 1570h6v3h-6zM727 1573h10v1h-10zM693 1573h27v2h-27zM721 1574h14v1h-14zM686 1570h6v6h-6zM693 1575h46v1h-46zM693 1576h20v1h-20zM714 1576h25v1h-25zM694 1577h45v1h-45zM682 1577h8v3h-8zM691 1578h51v2h-51zM733 1580h9v1h-9zM691 1580h31v1h-31zM681 1580h9v3h-9zM691 1581h28v2h-28zM736 1581h6v3h-6zM691 1583h27v1h-27zM720 1581h7v4h-7zM681 1583h6v2h-6zM688 1584h29v2h-29zM675 1585h12v1h-12zM720 1585h11v2h-11zM675 1586h6v2h-6zM688 1586h24v2h-24zM688 1588h29v1h-29zM725 1587h6v3h-6zM688 1589h34v1h-34zM675 1588h11v3h-11zM689 1590h42v1h-42zM689 1591h7v2h-7zM680 1591h6v3h-6zM698 1591h32v4h-32zM690 1593h6v3h-6zM721 1595h9v1h-9zM724 1596h6v1h-6zM698 1595h19v3h-19zM681 1594h6v6h-6zM698 1598h9v3h-9zM712 1600h6v2h-6zM701 1601h6v1h-6zM706 1602h12v1h-12zM706 1603h16v3h-16zM706 1606h6v2h-6zM716 1606h6v3h-6zM696 1604h6v6h-6z" fill="#0a0aff"/>
<path d="M714 1573h6v6h-6zM703 1580h6v6h-6zM711 1582h6v6h-6zM712 1588h6v6h-6z" fill="#e83010"/>
<rect x="615.8" y="1388.9" width="153.1" height="156.6" fill="none" stroke="#222" stroke-width="1.4"/>
<line x1="768.9" y1="1388.9" x2="768.9" y2="1545.5" stroke="#000" stroke-width="2"/>
<path d="M508.6 1488.7h4M508.6 1473.6h4M508.6 1462.8h4M508.6 1447.7h4M508.6 1441.9h4M508.6 1436.9h4M508.6 1432.5h4M508.6 1405.8h4M508.6 1392.5h4M508.6 1383.1h4M508.6 1369.8h4M508.6 1364.7h4M508.6 1360.3h4M508.6 1356.5h4M508.6 1330.2h4M508.6 1560.9h4M508.6 1609.7h4M508.6 1550.7h4M508.6 1619.9h4M508.6 1541.8h4M508.6 1628.8h4M508.6 1535.3h4M508.6 1635.3h4M508.6 1529.9h4M508.6 1640.7h4M508.6 1525.7h4M508.6 1644.9h4M508.6 1521.5h4M508.6 1649.1h4M508.6 1518h4M677.5 1651.5v4M691.5 1651.5v4M701.4 1651.5v4M715.4 1651.5v4M720.7 1651.5v4M725.3 1651.5v4M729.4 1651.5v4M756.2 1651.5v4M769.8 1651.5v4M779.5 1651.5v4M793.1 1651.5v4M798.2 1651.5v4M802.7 1651.5v4M806.7 1651.5v4M833.4 1651.5v4M595.6 1651.5v4M534.4 1651.5v4M608.3 1651.5v4M521.7 1651.5v4M619.5 1651.5v4M627.6 1651.5v4M634.4 1651.5v4M639.7 1651.5v4M645 1651.5v4M649.3 1651.5v4" fill="none" stroke="#222" stroke-width="1.8"/>
<path d="M506.6 1454.5h6M506.6 1375.8h6M709.1 1651.5v6M787 1651.5v6" fill="none" stroke="#222" stroke-width="2.2"/>
<path d="M504.1 1514.6h8.5M504.1 1428.6h8.5M504.1 1353h8.5M653.6 1651.5v8.5M733 1651.5v8.5M810.2 1651.5v8.5" fill="none" stroke="#222" stroke-width="3.4"/>
<rect x="507.6" y="1573.3" width="5" height="24" fill="#222"/><rect x="504.1" y="1581.8" width="8.5" height="7" fill="#222"/><rect x="548" y="1651.5" width="34" height="5" fill="#111"/><rect x="555.5" y="1651.5" width="19" height="8" fill="#111"/>
<line x1="512.6" y1="1321.8" x2="842.5" y2="1321.8" stroke="#222" stroke-width="1.5" stroke-linecap="square"/>
<line x1="842.5" y1="1321.8" x2="842.5" y2="1651.5" stroke="#333" stroke-width="1.5" stroke-linecap="square"/>
<line x1="512.6" y1="1651.5" x2="842.5" y2="1651.5" stroke="#000" stroke-width="2.2" stroke-linecap="square"/>
<line x1="512.6" y1="1321.8" x2="512.6" y2="1651.5" stroke="#000" stroke-width="2.2" stroke-linecap="square"/>
<text x="491.2" y="1360.9" text-anchor="end">10<tspan dy="-12.4" font-size="17.8">5</tspan></text>
<text x="491.2" y="1436.8" text-anchor="end">10<tspan dy="-12.4" font-size="17.8">4</tspan></text>
<text x="491.2" y="1521.7" text-anchor="end">10<tspan dy="-12.4" font-size="17.8">3</tspan></text>
<text x="491.2" y="1593.7" text-anchor="end">0</text>
<text x="570" y="1697.7" text-anchor="middle">0</text>
<text x="653.9" y="1697.7" text-anchor="middle">10<tspan dy="-12.4" font-size="17.8">3</tspan></text>
<text x="733.3" y="1697.7" text-anchor="middle">10<tspan dy="-12.4" font-size="17.8">4</tspan></text>
<text x="812.1" y="1697.7" text-anchor="middle">10<tspan dy="-12.4" font-size="17.8">5</tspan></text>
<text x="674.1" y="1304.8" text-anchor="middle">Day 213</text>
<text x="694.4" y="1374" text-anchor="middle">2.020%</text>
</g>
<g id="pd3">
<path d="M1042.4 1262.9V1669.2H1391.8" fill="none" stroke="#2a2a2a" stroke-width="1.3"/>
<line x1="1028.6" y1="1669.2" x2="1043" y2="1669.2" stroke="#2a2a2a" stroke-width="1.3"/>
<line x1="1028.6" y1="1262.9" x2="1042.4" y2="1262.9" stroke="#2a2a2a" stroke-width="1.3"/>
<text x="1014.8" y="1271.3" text-anchor="end">80</text>
<line x1="1028.6" y1="1364.2" x2="1042.4" y2="1364.2" stroke="#2a2a2a" stroke-width="1.3"/>
<text x="1014.8" y="1372.6" text-anchor="end">60</text>
<line x1="1028.6" y1="1465.8" x2="1042.4" y2="1465.8" stroke="#2a2a2a" stroke-width="1.3"/>
<text x="1014.8" y="1474.2" text-anchor="end">40</text>
<line x1="1028.6" y1="1567.3" x2="1042.4" y2="1567.3" stroke="#2a2a2a" stroke-width="1.3"/>
<text x="1014.8" y="1575.7" text-anchor="end">20</text>
<text x="1014.8" y="1677.6" text-anchor="end">0</text>
<line x1="1112.1" y1="1669.2" x2="1112.1" y2="1683.7" stroke="#2a2a2a" stroke-width="1.3"/>
<line x1="1216.9" y1="1669.2" x2="1216.9" y2="1683.7" stroke="#2a2a2a" stroke-width="1.3"/>
<line x1="1321.7" y1="1669.2" x2="1321.7" y2="1683.7" stroke="#2a2a2a" stroke-width="1.3"/>
<text x="955" y="1471" text-anchor="middle" transform="rotate(-90 955 1471)">CD38<tspan dy="-10.5" font-size="17.8">+</tspan><tspan dy="10.5"> (%) of tet</tspan><tspan dy="-10.5" font-size="17.8">+</tspan></text>
<line x1="1109.3" y1="1240.1" x2="1203.8" y2="1240.1" stroke="#000" stroke-width="2.1"/>
<line x1="1109.3" y1="1276.8" x2="1320.1" y2="1276.8" stroke="#000" stroke-width="2.1"/>
<text x="1154.5" y="1229" text-anchor="middle">0.0064</text>
<text x="1153" y="1267.5" word-spacing="-1.9"><tspan font-style="italic">P</tspan> &lt; 0.0001</text>
<text x="1108" y="1717.2" text-anchor="middle">20–60</text>
<text x="1112.5" y="1750" text-anchor="middle">d</text>
<text x="1216.5" y="1717.2" text-anchor="middle">61–120</text>
<text x="1217" y="1750" text-anchor="middle">d</text>
<text x="1324.5" y="1717.2" text-anchor="middle">&gt;120 d</text>
<path d="M1112.1 1316.3L1216.9 1560.9L1321.7 1623.6M1112.1 1450.6L1216.9 1639.6M1112.1 1481.2L1216.9 1620.4L1321.7 1647.7M1112.1 1515.6L1216.9 1657.3M1112.1 1529.7L1216.9 1594.6L1321.7 1633.2M1112.1 1534.5L1216.9 1599.5L1321.7 1628.4M1112.1 1538.4L1216.9 1594.6L1321.7 1652.5M1112.1 1550.6L1216.9 1620.4L1321.7 1642.9M1112.1 1591.4L1216.9 1634.8L1321.7 1663.8M1112.1 1597.9L1216.9 1597.9L1321.7 1657.3M1112.1 1603.6L1216.9 1644.5L1321.7 1633.2M1112.1 1609.1L1216.9 1594.6L1321.7 1668.6M1112.1 1609.1L1216.9 1639.6L1321.7 1647.7M1112.1 1614.6L1216.9 1650.9L1321.7 1652.5M1112.1 1620.4L1216.9 1644.5L1321.7 1668.6M1112.1 1629.4L1216.9 1657.3L1321.7 1642.9M1112.1 1637.7L1216.9 1657.3L1321.7 1623.6M1112.1 1597.9L1216.9 1634.8L1321.7 1663.8M1112.1 1603.6L1216.9 1650.9L1321.7 1657.3" fill="none" stroke="#000" stroke-width="2"/>
<g fill="#000"><circle cx="1112.1" cy="1316.3" r="6.2"/><circle cx="1216.9" cy="1560.9" r="6.2"/><circle cx="1321.7" cy="1623.6" r="6.2"/><circle cx="1112.1" cy="1450.6" r="6.2"/><circle cx="1216.9" cy="1639.6" r="6.2"/><circle cx="1112.1" cy="1481.2" r="6.2"/><circle cx="1216.9" cy="1620.4" r="6.2"/><circle cx="1321.7" cy="1647.7" r="6.2"/><circle cx="1112.1" cy="1515.6" r="6.2"/><circle cx="1216.9" cy="1657.3" r="6.2"/><circle cx="1112.1" cy="1529.7" r="6.2"/><circle cx="1216.9" cy="1594.6" r="6.2"/><circle cx="1321.7" cy="1633.2" r="6.2"/><circle cx="1112.1" cy="1534.5" r="6.2"/><circle cx="1216.9" cy="1599.5" r="6.2"/><circle cx="1321.7" cy="1628.4" r="6.2"/><circle cx="1112.1" cy="1538.4" r="6.2"/><circle cx="1216.9" cy="1594.6" r="6.2"/><circle cx="1321.7" cy="1652.5" r="6.2"/><circle cx="1112.1" cy="1550.6" r="6.2"/><circle cx="1216.9" cy="1620.4" r="6.2"/><circle cx="1321.7" cy="1642.9" r="6.2"/><circle cx="1112.1" cy="1591.4" r="6.2"/><circle cx="1216.9" cy="1634.8" r="6.2"/><circle cx="1321.7" cy="1663.8" r="6.2"/><circle cx="1112.1" cy="1597.9" r="6.2"/><circle cx="1216.9" cy="1597.9" r="6.2"/><circle cx="1321.7" cy="1657.3" r="6.2"/><circle cx="1112.1" cy="1603.6" r="6.2"/><circle cx="1216.9" cy="1644.5" r="6.2"/><circle cx="1321.7" cy="1633.2" r="6.2"/><circle cx="1112.1" cy="1609.1" r="6.2"/><circle cx="1216.9" cy="1594.6" r="6.2"/><circle cx="1321.7" cy="1668.6" r="6.2"/><circle cx="1112.1" cy="1609.1" r="6.2"/><circle cx="1216.9" cy="1639.6" r="6.2"/><circle cx="1321.7" cy="1647.7" r="6.2"/><circle cx="1112.1" cy="1614.6" r="6.2"/><circle cx="1216.9" cy="1650.9" r="6.2"/><circle cx="1321.7" cy="1652.5" r="6.2"/><circle cx="1112.1" cy="1620.4" r="6.2"/><circle cx="1216.9" cy="1644.5" r="6.2"/><circle cx="1321.7" cy="1668.6" r="6.2"/><circle cx="1112.1" cy="1629.4" r="6.2"/><circle cx="1216.9" cy="1657.3" r="6.2"/><circle cx="1321.7" cy="1642.9" r="6.2"/><circle cx="1112.1" cy="1637.7" r="6.2"/><circle cx="1216.9" cy="1657.3" r="6.2"/><circle cx="1321.7" cy="1623.6" r="6.2"/><circle cx="1112.1" cy="1597.9" r="6.2"/><circle cx="1216.9" cy="1634.8" r="6.2"/><circle cx="1321.7" cy="1663.8" r="6.2"/><circle cx="1112.1" cy="1603.6" r="6.2"/><circle cx="1216.9" cy="1650.9" r="6.2"/><circle cx="1321.7" cy="1657.3" r="6.2"/></g>
</g>
<g id="pe">
<text transform="translate(6.8 1825.8) scale(0.88 1)" font-size="33.8" font-weight="bold">e</text>
<path d="M133.3 1864.3V2294.5H389.9" fill="none" stroke="#2a2a2a" stroke-width="1.3"/>
<line x1="119.1" y1="2294.5" x2="134" y2="2294.5" stroke="#2a2a2a" stroke-width="1.3"/>
<line x1="119.1" y1="1864.3" x2="133.3" y2="1864.3" stroke="#2a2a2a" stroke-width="1.3"/>
<text x="105.5" y="1873.9" text-anchor="end">100</text>
<line x1="119.1" y1="1950.3" x2="133.3" y2="1950.3" stroke="#2a2a2a" stroke-width="1.3"/>
<text x="105.5" y="1959.9" text-anchor="end">80</text>
<line x1="119.1" y1="2036" x2="133.3" y2="2036" stroke="#2a2a2a" stroke-width="1.3"/>
<text x="105.5" y="2045.6" text-anchor="end">60</text>
<line x1="119.1" y1="2122.3" x2="133.3" y2="2122.3" stroke="#2a2a2a" stroke-width="1.3"/>
<text x="105.5" y="2131.9" text-anchor="end">40</text>
<line x1="119.1" y1="2208.3" x2="133.3" y2="2208.3" stroke="#2a2a2a" stroke-width="1.3"/>
<text x="105.5" y="2217.9" text-anchor="end">20</text>
<text x="105.5" y="2304.1" text-anchor="end">0</text>
<line x1="172.2" y1="2294.5" x2="172.2" y2="2308.8" stroke="#2a2a2a" stroke-width="1.3"/>
<line x1="231.7" y1="2294.5" x2="231.7" y2="2308.8" stroke="#2a2a2a" stroke-width="1.3"/>
<line x1="290.8" y1="2294.5" x2="290.8" y2="2308.8" stroke="#2a2a2a" stroke-width="1.3"/>
<line x1="349.9" y1="2294.5" x2="349.9" y2="2308.8" stroke="#2a2a2a" stroke-width="1.3"/>
<text x="258.8" y="1850.2" text-anchor="middle">Day 20–60</text>
<text x="34" y="2080" text-anchor="middle" transform="rotate(-90 34 2080)">TET<tspan dy="8.6" font-size="17.8">751</tspan><tspan dy="-19.2" font-size="17.8">+</tspan><tspan dy="10.5"> (%)</tspan></text>
<text x="10.4" y="2343.6">CCR6</text>
<text x="10.4" y="2382">CXCR3</text>
<text x="172.2" y="2343.6" text-anchor="middle">+</text>
<text x="172.2" y="2382" text-anchor="middle">−</text>
<text x="231.7" y="2343.6" text-anchor="middle">+</text>
<text x="231.7" y="2382" text-anchor="middle">+</text>
<text x="290.8" y="2343.6" text-anchor="middle">−</text>
<text x="290.8" y="2382" text-anchor="middle">+</text>
<text x="349.9" y="2343.6" text-anchor="middle">−</text>
<text x="349.9" y="2382" text-anchor="middle">−</text>
<g fill="#7f0000"><circle cx="173.9" cy="2243" r="6.8"/><circle cx="169.8" cy="2251.3" r="6.8"/><circle cx="175.2" cy="2260" r="6.8"/><circle cx="167" cy="2268.8" r="6.8"/><circle cx="178" cy="2268.8" r="6.8"/><circle cx="171.1" cy="2276.5" r="6.8"/><circle cx="180.7" cy="2277.8" r="6.8"/><circle cx="164.3" cy="2277.8" r="6.8"/><circle cx="158.8" cy="2288" r="6.8"/><circle cx="169.8" cy="2290.1" r="6.8"/><circle cx="178" cy="2290.1" r="6.8"/><circle cx="186.2" cy="2288.8" r="6.8"/><circle cx="182.1" cy="2269.6" r="6.8"/><circle cx="162.9" cy="2272.3" r="6.8"/><circle cx="175.2" cy="2284.7" r="6.8"/><circle cx="165.7" cy="2284.7" r="6.8"/></g>
<line x1="172.2" y1="2267.4" x2="172.2" y2="2285.5" stroke="#000" stroke-width="2.1"/>
<line x1="162.1" y1="2267.4" x2="182.9" y2="2267.4" stroke="#000" stroke-width="2.1"/>
<line x1="162.1" y1="2285.5" x2="182.9" y2="2285.5" stroke="#000" stroke-width="2.1"/>
<line x1="152.8" y1="2276.5" x2="192.5" y2="2276.5" stroke="#000" stroke-width="3.6"/>
<g fill="#0c4189"><circle cx="231.7" cy="2211.6" r="6.8"/><circle cx="227.3" cy="2246.9" r="6.8"/><circle cx="236" cy="2246.9" r="6.8"/><circle cx="231.7" cy="2255.9" r="6.8"/><circle cx="243.7" cy="2264.7" r="6.8"/><circle cx="219.1" cy="2269.6" r="6.8"/><circle cx="227.3" cy="2271" r="6.8"/><circle cx="238.2" cy="2269.6" r="6.8"/><circle cx="231.7" cy="2277.8" r="6.8"/><circle cx="221.8" cy="2284.7" r="6.8"/><circle cx="241" cy="2284.7" r="6.8"/><circle cx="219.1" cy="2288.8" r="6.8"/><circle cx="231.7" cy="2288.8" r="6.8"/><circle cx="238.2" cy="2290.1" r="6.8"/><circle cx="224.5" cy="2262.8" r="6.8"/><circle cx="235.5" cy="2262.8" r="6.8"/></g>
<line x1="231.7" y1="2251.8" x2="231.7" y2="2279.7" stroke="#000" stroke-width="2.1"/>
<line x1="221.2" y1="2251.8" x2="242.1" y2="2251.8" stroke="#000" stroke-width="2.1"/>
<line x1="221.2" y1="2279.7" x2="242.1" y2="2279.7" stroke="#000" stroke-width="2.1"/>
<line x1="212.2" y1="2265" x2="251.9" y2="2265" stroke="#000" stroke-width="3.6"/>
<g fill="#117f0e"><circle cx="290.8" cy="1996.1" r="6.8"/><circle cx="294.4" cy="2022.3" r="6.8"/><circle cx="287" cy="2025.9" r="6.8"/><circle cx="277.7" cy="2056.8" r="6.8"/><circle cx="284.8" cy="2062.9" r="6.8"/><circle cx="297.1" cy="2067" r="6.8"/><circle cx="290.8" cy="2069.7" r="6.8"/><circle cx="297.1" cy="2087.5" r="6.8"/><circle cx="277.7" cy="2096.3" r="6.8"/><circle cx="303.9" cy="2097.1" r="6.8"/><circle cx="284.8" cy="2102.6" r="6.8"/><circle cx="297.1" cy="2102.6" r="6.8"/><circle cx="290.8" cy="2105.3" r="6.8"/><circle cx="284.8" cy="2131.3" r="6.8"/><circle cx="290.8" cy="2139.5" r="6.8"/><circle cx="290.8" cy="2155.4" r="6.8"/><circle cx="297.1" cy="2168.3" r="6.8"/><circle cx="290.8" cy="2180.1" r="6.8"/><circle cx="290.8" cy="2202.2" r="6.8"/></g>
<line x1="290.8" y1="2062.9" x2="290.8" y2="2139.5" stroke="#000" stroke-width="2.1"/>
<line x1="280.4" y1="2062.9" x2="301.2" y2="2062.9" stroke="#000" stroke-width="2.1"/>
<line x1="280.4" y1="2139.5" x2="301.2" y2="2139.5" stroke="#000" stroke-width="2.1"/>
<line x1="271.1" y1="2096.8" x2="310.8" y2="2096.8" stroke="#000" stroke-width="3.6"/>
<g fill="#800080"><circle cx="349.9" cy="1996.3" r="6.8"/><circle cx="349.9" cy="2016.9" r="6.8"/><circle cx="349.9" cy="2032.5" r="6.8"/><circle cx="349.9" cy="2049.7" r="6.8"/><circle cx="343.6" cy="2078.5" r="6.8"/><circle cx="349.9" cy="2078.5" r="6.8"/><circle cx="356.5" cy="2091.1" r="6.8"/><circle cx="343.6" cy="2103.1" r="6.8"/><circle cx="349.9" cy="2108.9" r="6.8"/><circle cx="336.8" cy="2130.8" r="6.8"/><circle cx="362.8" cy="2130.8" r="6.8"/><circle cx="343.6" cy="2139.5" r="6.8"/><circle cx="356.5" cy="2139.5" r="6.8"/><circle cx="349.9" cy="2149.1" r="6.8"/><circle cx="356.5" cy="2166.9" r="6.8"/><circle cx="349.9" cy="2174.3" r="6.8"/><circle cx="353.2" cy="2205.3" r="6.8"/><circle cx="346.4" cy="2207.4" r="6.8"/></g>
<line x1="349.9" y1="2078.2" x2="349.9" y2="2149.7" stroke="#000" stroke-width="2.1"/>
<line x1="339.5" y1="2078.2" x2="360.4" y2="2078.2" stroke="#000" stroke-width="2.1"/>
<line x1="339.5" y1="2149.7" x2="360.4" y2="2149.7" stroke="#000" stroke-width="2.1"/>
<line x1="330.5" y1="2130.8" x2="369.7" y2="2130.8" stroke="#000" stroke-width="3.6"/>
</g>
<g id="pf1">
<text transform="translate(485 1825.7) scale(0.88 1)" font-size="33.8" font-weight="bold">f</text>
<path d="M643 2023h5v5h-5zM640 2032h5v2h-5zM637 2034h8v1h-8zM672 2032h5v5h-5zM637 2035h15v2h-15zM657 2036h5v1h-5zM631 2036h5v1h-5zM624 2036h5v2h-5zM631 2037h31v1h-31zM665 2038h5v1h-5zM624 2038h38v1h-38zM624 2039h46v1h-46zM624 2040h24v1h-24zM649 2040h21v1h-21zM691 2038h5v5h-5zM626 2041h5v2h-5zM633 2041h37v2h-37zM685 2041h5v2h-5zM674 2040h5v4h-5zM631 2043h38v1h-38zM624 2043h5v1h-5zM682 2043h8v2h-8zM646 2044h11v1h-11zM631 2044h12v1h-12zM674 2044h7v1h-7zM637 2045h20v1h-20zM631 2045h5v1h-5zM736 2042h5v5h-5zM661 2044h11v3h-11zM682 2045h12v2h-12zM675 2045h6v2h-6zM631 2046h26v1h-26zM623 2044h6v4h-6zM661 2047h33v1h-33zM716 2047h5v1h-5zM710 2046h5v3h-5zM659 2048h23v1h-23zM683 2048h15v1h-15zM716 2048h6v1h-6zM630 2047h27v3h-27zM618 2048h10v2h-10zM659 2049h39v1h-39zM710 2049h12v2h-12zM688 2050h10v1h-10zM615 2050h37v1h-37zM659 2050h26v2h-26zM692 2051h6v1h-6zM615 2051h20v1h-20zM712 2051h10v1h-10zM707 2052h15v1h-15zM675 2052h10v1h-10zM659 2052h15v1h-15zM615 2052h18v2h-18zM665 2053h20v1h-20zM707 2053h10v1h-10zM731 2053h5v1h-5zM744 2052h5v3h-5zM692 2052h8v3h-8zM753 2052h5v3h-5zM665 2054h7v1h-7zM615 2054h21v1h-21zM707 2054h5v1h-5zM637 2051h19v5h-19zM657 2054h5v2h-5zM674 2054h12v2h-12zM706 2055h6v1h-6zM663 2055h9v1h-9zM618 2055h18v1h-18zM744 2055h14v2h-14zM689 2055h5v2h-5zM695 2055h5v2h-5zM706 2056h14v1h-14zM663 2056h23v1h-23zM618 2056h6v1h-6zM637 2056h25v1h-25zM625 2056h11v1h-11zM737 2053h5v5h-5zM726 2054h10v4h-10zM612 2056h5v2h-5zM745 2057h9v1h-9zM631 2057h63v1h-63zM625 2057h5v1h-5zM618 2057h5v1h-5zM652 2058h42v1h-42zM695 2058h9v1h-9zM612 2058h11v1h-11zM726 2058h6v1h-6zM631 2058h20v1h-20zM761 2055h5v5h-5zM706 2057h17v3h-17zM739 2058h15v2h-15zM733 2058h5v2h-5zM661 2059h43v1h-43zM652 2059h7v1h-7zM612 2059h12v1h-12zM727 2059h5v1h-5zM627 2059h24v1h-24zM773 2056h5v5h-5zM739 2060h14v1h-14zM660 2060h44v1h-44zM612 2060h14v1h-14zM627 2060h32v2h-32zM710 2060h13v2h-13zM725 2060h13v2h-13zM660 2061h49v1h-49zM748 2061h5v1h-5zM615 2061h11v2h-11zM739 2061h6v2h-6zM720 2062h18v1h-18zM627 2062h22v1h-22zM650 2062h59v1h-59zM755 2059h5v5h-5zM642 2063h37v1h-37zM682 2063h18v1h-18zM710 2062h5v3h-5zM762 2063h5v2h-5zM616 2063h10v2h-10zM702 2063h7v2h-7zM642 2064h36v1h-36zM686 2064h8v1h-8zM695 2064h5v1h-5zM627 2063h14v3h-14zM752 2064h5v2h-5zM702 2065h11v1h-11zM642 2065h41v1h-41zM686 2065h13v1h-13zM740 2063h5v4h-5zM720 2063h13v4h-13zM616 2065h9v2h-9zM770 2065h5v2h-5zM762 2065h6v2h-6zM746 2066h11v1h-11zM686 2066h15v1h-15zM702 2066h5v1h-5zM708 2066h6v1h-6zM626 2066h57v1h-57zM788 2063h5v5h-5zM702 2067h12v1h-12zM618 2067h7v1h-7zM626 2067h75v1h-75zM723 2067h12v1h-12zM740 2067h17v1h-17zM626 2068h88v1h-88zM744 2068h13v1h-13zM719 2068h19v1h-19zM615 2068h10v1h-10zM762 2067h13v3h-13zM744 2069h12v1h-12zM615 2069h123v2h-123zM744 2070h29v1h-29zM754 2071h19v1h-19zM744 2071h9v1h-9zM615 2071h127v2h-127zM744 2072h29v1h-29zM617 2073h151v3h-151zM782 2072h5v5h-5zM672 2076h96v1h-96zM617 2076h54v1h-54zM705 2077h63v1h-63zM617 2077h84v3h-84zM710 2078h57v2h-57zM710 2080h51v1h-51zM618 2080h87v1h-87zM768 2078h10v4h-10zM762 2080h5v2h-5zM748 2081h13v1h-13zM616 2081h89v2h-89zM706 2081h41v2h-41zM767 2082h11v1h-11zM748 2082h18v1h-18zM731 2083h16v1h-16zM616 2083h113v2h-113zM761 2083h16v2h-16zM748 2083h12v2h-12zM731 2084h14v1h-14zM705 2085h24v1h-24zM761 2085h19v1h-19zM732 2085h28v2h-28zM761 2086h20v1h-20zM705 2086h26v1h-26zM616 2085h88v3h-88zM763 2087h18v1h-18zM705 2087h53v1h-53zM763 2088h9v1h-9zM709 2088h51v1h-51zM774 2088h7v2h-7zM709 2089h53v1h-53zM616 2088h89v3h-89zM764 2089h8v2h-8zM775 2090h6v1h-6zM706 2090h56v2h-56zM815 2088h5v5h-5zM776 2091h5v2h-5zM614 2091h91v2h-91zM740 2092h22v1h-22zM706 2092h33v1h-33zM614 2093h90v1h-90zM715 2093h12v1h-12zM747 2093h15v1h-15zM706 2093h7v1h-7zM740 2093h5v1h-5zM706 2094h21v1h-21zM764 2091h11v5h-11zM620 2094h85v2h-85zM740 2094h21v2h-21zM614 2094h5v2h-5zM707 2095h20v1h-20zM729 2093h10v4h-10zM665 2096h55v1h-55zM722 2096h5v1h-5zM617 2096h47v1h-47zM742 2096h23v2h-23zM719 2097h18v1h-18zM617 2097h68v1h-68zM708 2097h10v1h-10zM686 2097h21v1h-21zM779 2097h5v1h-5zM617 2098h101v1h-101zM779 2098h6v1h-6zM719 2098h46v1h-46zM767 2096h6v4h-6zM617 2099h72v1h-72zM749 2099h16v1h-16zM719 2099h29v1h-29zM690 2099h28v1h-28zM775 2099h10v2h-10zM617 2100h95v1h-95zM768 2100h5v1h-5zM719 2100h46v1h-46zM713 2100h5v1h-5zM713 2101h50v1h-50zM767 2101h6v2h-6zM707 2101h5v2h-5zM617 2101h86v2h-86zM747 2102h16v1h-16zM715 2102h6v1h-6zM725 2102h21v2h-21zM702 2103h19v1h-19zM617 2103h84v1h-84zM747 2103h26v1h-26zM617 2104h156v1h-156zM775 2101h12v5h-12zM617 2105h130v1h-130zM750 2105h22v1h-22zM750 2106h18v1h-18zM708 2106h39v1h-39zM773 2106h13v1h-13zM614 2106h93v2h-93zM754 2107h14v1h-14zM708 2107h44v1h-44zM798 2104h5v5h-5zM779 2107h7v2h-7zM754 2108h5v1h-5zM708 2108h21v1h-21zM614 2108h91v1h-91zM773 2107h5v3h-5zM731 2108h22v2h-22zM763 2108h8v2h-8zM614 2109h115v2h-115zM781 2109h5v2h-5zM759 2110h19v1h-19zM731 2110h23v1h-23zM756 2111h21v1h-21zM617 2111h112v2h-112zM734 2111h20v2h-20zM755 2112h22v1h-22zM617 2113h108v1h-108zM738 2113h39v1h-39zM729 2113h5v2h-5zM717 2114h8v1h-8zM738 2114h6v1h-6zM748 2114h17v1h-17zM617 2114h99v1h-99zM766 2114h11v1h-11zM772 2115h5v1h-5zM748 2115h23v1h-23zM729 2115h16v1h-16zM717 2115h5v1h-5zM617 2115h95v2h-95zM713 2116h9v1h-9zM725 2116h48v1h-48zM701 2117h11v1h-11zM616 2117h82v1h-82zM609 2114h5v5h-5zM713 2117h53v2h-53zM681 2118h20v1h-20zM616 2118h64v1h-64zM703 2118h9v1h-9zM807 2115h5v5h-5zM703 2119h63v1h-63zM616 2119h11v1h-11zM768 2117h5v4h-5zM628 2119h73v2h-73zM615 2120h12v1h-12zM739 2120h23v2h-23zM703 2120h29v2h-29zM615 2121h86v1h-86zM782 2118h5v5h-5zM614 2122h153v1h-153zM614 2123h83v1h-83zM698 2123h70v1h-70zM614 2124h154v1h-154zM776 2122h5v4h-5zM614 2125h157v1h-157zM614 2126h113v1h-113zM728 2126h44v1h-44zM616 2127h158v1h-158zM776 2126h7v3h-7zM702 2128h73v1h-73zM616 2128h84v2h-84zM701 2129h86v1h-86zM616 2130h171v2h-171zM616 2132h151v1h-151zM779 2132h8v1h-8zM768 2132h10v2h-10zM677 2133h90v1h-90zM618 2133h56v1h-56zM779 2133h12v1h-12zM706 2134h85v1h-85zM617 2134h88v1h-88zM617 2135h174v1h-174zM617 2136h113v1h-113zM732 2136h59v1h-59zM617 2137h174v1h-174zM617 2138h111v1h-111zM729 2138h57v2h-57zM619 2139h109v1h-109zM619 2140h167v3h-167zM616 2143h179v2h-179zM671 2145h124v1h-124zM616 2145h52v1h-52zM672 2146h123v1h-123zM616 2146h53v2h-53zM765 2147h30v1h-30zM672 2147h91v1h-91zM766 2148h20v1h-20zM619 2148h144v1h-144zM614 2149h149v1h-149zM766 2149h23v1h-23zM614 2150h180v1h-180zM614 2151h166v1h-166zM781 2151h14v1h-14zM812 2148h5v5h-5zM633 2152h162v1h-162zM614 2152h18v1h-18zM614 2153h181v1h-181zM615 2154h180v1h-180zM602 2151h5v5h-5zM612 2155h183v1h-183zM612 2156h180v1h-180zM715 2157h28v1h-28zM745 2157h50v1h-50zM612 2157h102v2h-102zM715 2158h80v1h-80zM611 2159h184v1h-184zM790 2160h5v2h-5zM610 2160h177v2h-177zM610 2162h175v1h-175zM692 2163h99v1h-99zM610 2163h81v1h-81zM610 2164h181v1h-181zM611 2165h182v1h-182zM610 2166h183v1h-183zM610 2167h163v1h-163zM774 2167h19v3h-19zM610 2168h162v3h-162zM798 2167h5v5h-5zM774 2170h17v2h-17zM611 2171h162v3h-162zM775 2172h16v3h-16zM764 2174h9v1h-9zM746 2174h17v1h-17zM735 2174h9v1h-9zM611 2174h123v2h-123zM786 2175h5v1h-5zM735 2175h28v1h-28zM764 2175h21v2h-21zM611 2176h152v1h-152zM787 2177h5v1h-5zM611 2177h174v1h-174zM723 2178h70v1h-70zM611 2178h111v1h-111zM613 2179h42v1h-42zM656 2179h137v1h-137zM614 2180h179v1h-179zM615 2181h178v2h-178zM615 2183h177v1h-177zM611 2184h181v1h-181zM611 2185h182v4h-182zM616 2189h152v1h-152zM769 2189h24v2h-24zM618 2190h150v1h-150zM618 2191h164v1h-164zM783 2191h6v2h-6zM620 2192h118v1h-118zM784 2193h5v1h-5zM618 2193h119v1h-119zM740 2192h42v3h-42zM618 2194h120v1h-120zM618 2195h164v2h-164zM618 2197h14v1h-14zM633 2197h149v1h-149zM713 2198h37v1h-37zM751 2198h31v1h-31zM622 2198h90v1h-90zM774 2199h8v1h-8zM622 2199h151v1h-151zM622 2200h130v1h-130zM774 2200h7v1h-7zM766 2200h5v2h-5zM757 2200h6v2h-6zM622 2201h96v1h-96zM774 2201h5v1h-5zM722 2201h30v2h-30zM758 2202h5v1h-5zM625 2202h90v1h-90zM747 2203h5v1h-5zM722 2203h15v1h-15zM629 2203h86v1h-86zM630 2204h27v1h-27zM723 2204h5v1h-5zM659 2204h40v1h-40zM710 2204h5v1h-5zM616 2201h5v5h-5zM679 2205h20v1h-20zM630 2205h6v1h-6zM701 2204h7v3h-7zM637 2205h16v2h-16zM631 2206h5v1h-5zM681 2206h6v1h-6zM693 2206h6v1h-6zM654 2205h23v3h-23zM681 2207h5v1h-5zM641 2207h12v1h-12zM694 2207h5v2h-5zM703 2207h5v2h-5zM645 2208h5v2h-5zM654 2208h5v2h-5z" fill="#b2b2b2"/>
<path d="M656 2068h6v6h-6zM647 2071h6v6h-6zM716 2071h6v6h-6zM732 2087h6v6h-6zM699 2101h6v6h-6zM727 2103h6v6h-6zM748 2106h6v6h-6zM649 2137h6v6h-6zM754 2141h6v6h-6zM717 2145h6v2h-6zM733 2142h6v6h-6zM686 2147h6v2h-6zM677 2145h6v6h-6zM664 2145h6v6h-6zM717 2147h10v4h-10zM721 2151h6v1h-6zM686 2149h9v4h-9zM647 2150h6v3h-6zM721 2152h8v1h-8zM731 2149h6v5h-6zM767 2149h6v6h-6zM658 2153h6v2h-6zM689 2153h6v2h-6zM731 2154h10v1h-10zM646 2153h7v3h-7zM658 2155h8v1h-8zM667 2153h6v4h-6zM735 2155h6v2h-6zM654 2156h12v1h-12zM717 2153h12v5h-12zM645 2156h7v2h-7zM754 2153h6v6h-6zM735 2157h11v2h-11zM654 2157h19v2h-19zM717 2158h6v1h-6zM643 2158h9v1h-9zM733 2159h13v1h-13zM638 2159h13v1h-13zM615 2155h6v6h-6zM721 2159h6v3h-6zM654 2159h15v3h-15zM733 2160h6v2h-6zM702 2160h6v2h-6zM638 2160h15v2h-15zM740 2160h6v3h-6zM720 2162h7v1h-7zM638 2162h31v1h-31zM730 2162h9v1h-9zM638 2163h25v1h-25zM710 2160h6v5h-6zM684 2162h6v3h-6zM720 2163h22v2h-22zM647 2164h10v1h-10zM632 2164h12v1h-12zM696 2162h12v4h-12zM710 2165h32v1h-32zM632 2165h25v1h-25zM760 2164h6v3h-6zM679 2165h11v3h-11zM712 2166h30v2h-30zM696 2166h9v2h-9zM632 2166h32v2h-32zM725 2168h17v1h-17zM667 2164h6v6h-6zM755 2167h11v3h-11zM632 2168h10v2h-10zM644 2168h20v2h-20zM773 2165h6v6h-6zM712 2168h11v3h-11zM679 2168h9v3h-9zM699 2168h6v3h-6zM730 2169h10v2h-10zM644 2170h6v1h-6zM653 2170h11v1h-11zM682 2171h6v1h-6zM666 2171h6v1h-6zM622 2171h6v1h-6zM697 2171h8v1h-8zM650 2171h14v1h-14zM746 2167h6v6h-6zM755 2170h6v3h-6zM717 2171h11v2h-11zM730 2171h14v2h-14zM650 2172h9v1h-9zM697 2172h6v1h-6zM601 2168h6v6h-6zM636 2170h6v4h-6zM666 2172h11v3h-11zM650 2173h10v2h-10zM636 2174h12v1h-12zM765 2170h6v6h-6zM719 2173h31v3h-31zM619 2172h9v5h-9zM697 2173h8v4h-8zM678 2174h6v3h-6zM636 2175h24v2h-24zM664 2175h13v2h-13zM718 2176h32v1h-32zM709 2173h6v5h-6zM671 2177h14v1h-14zM630 2177h6v1h-6zM718 2177h20v1h-20zM637 2177h26v1h-26zM619 2177h6v1h-6zM740 2177h10v2h-10zM699 2177h6v2h-6zM709 2178h15v1h-15zM728 2178h10v2h-10zM664 2177h6v4h-6zM630 2178h33v4h-33zM740 2179h6v3h-6zM715 2179h9v3h-9zM727 2180h10v2h-10zM672 2178h13v5h-13zM726 2182h11v1h-11zM630 2182h21v1h-21zM654 2182h9v1h-9zM739 2182h7v1h-7zM753 2178h6v6h-6zM715 2182h6v2h-6zM634 2183h17v1h-17zM726 2183h19v2h-19zM672 2183h6v2h-6zM638 2184h6v2h-6zM726 2185h7v1h-7zM638 2186h10v1h-10zM735 2185h10v3h-10zM726 2186h6v2h-6zM735 2188h6v1h-6zM711 2185h6v5h-6zM673 2189h6v1h-6zM749 2185h6v6h-6zM642 2187h6v5h-6zM633 2188h6v6h-6zM670 2190h9v4h-9zM665 2194h14v1h-14zM706 2190h11v6h-11zM665 2195h11v1h-11zM684 2191h6v6h-6zM665 2196h6v3h-6zM665 2199h12v1h-12zM671 2200h6v5h-6z" fill="#0000aa"/>
<line x1="697.5" y1="1904.4" x2="697.5" y2="2251.2" stroke="#000" stroke-width="2.6"/>
<line x1="600.1" y1="2132.5" x2="945.7" y2="2132.5" stroke="#000" stroke-width="2.2"/>
<path d="M596.1 2086.2h4M596.1 2069.7h4M596.1 2058h4M596.1 2041.6h4M596.1 2035.3h4M596.1 2029.9h4M596.1 2025.1h4M596.1 1995.6h4M596.1 1980.9h4M596.1 1970.4h4M596.1 1955.7h4M596.1 1950.1h4M596.1 1945.2h4M596.1 1940.9h4M596.1 1911.9h4M596.1 2152.1h4M596.1 2191.7h4M596.1 2143.8h4M596.1 2200h4M596.1 2136.5h4M596.1 2207.3h4M596.1 2131.2h4M596.1 2212.6h4M596.1 2126.9h4M596.1 2216.9h4M596.1 2123.4h4M596.1 2220.4h4M596.1 2120h4M596.1 2223.8h4M596.1 2117.2h4M596.1 2226.6h4M770.5 2251.2v4M785.9 2251.2v4M796.9 2251.2v4M812.3 2251.2v4M818.1 2251.2v4M823.2 2251.2v4M827.7 2251.2v4M855.2 2251.2v4M869 2251.2v4M878.7 2251.2v4M892.5 2251.2v4M897.7 2251.2v4M902.2 2251.2v4M906.2 2251.2v4M933.3 2251.2v4M687.7 2251.2v4M628.3 2251.2v4M700.2 2251.2v4M615.8 2251.2v4M711 2251.2v4M605 2251.2v4M718.9 2251.2v4M725.5 2251.2v4M730.7 2251.2v4M735.8 2251.2v4M740.1 2251.2v4" fill="none" stroke="#222" stroke-width="1.8"/>
<path d="M594.1 2049h6M594.1 1962.3h6M805.4 2251.2v6M886.3 2251.2v6" fill="none" stroke="#222" stroke-width="2.2"/>
<path d="M591.6 2114.4h8.5M591.6 2020.8h8.5M591.6 1937.1h8.5M591.6 2228.7h8.5M744.2 2251.2v8.5M831.7 2251.2v8.5M909.8 2251.2v8.5" fill="none" stroke="#222" stroke-width="3.4"/>
<rect x="595.1" y="2163.9" width="5" height="16" fill="#222"/><rect x="591.6" y="2168.4" width="8.5" height="7" fill="#222"/><rect x="643" y="2251.2" width="30" height="5" fill="#111"/><rect x="649.6" y="2251.2" width="16.8" height="8" fill="#111"/>
<line x1="600.1" y1="1904.4" x2="945.7" y2="1904.4" stroke="#222" stroke-width="1.5" stroke-linecap="square"/>
<line x1="945.7" y1="1904.4" x2="945.7" y2="2251.2" stroke="#333" stroke-width="1.5" stroke-linecap="square"/>
<line x1="600.1" y1="2251.2" x2="945.7" y2="2251.2" stroke="#000" stroke-width="2.2" stroke-linecap="square"/>
<line x1="600.1" y1="1904.4" x2="600.1" y2="2251.2" stroke="#000" stroke-width="2.2" stroke-linecap="square"/>
<text x="577.3" y="1946.9" text-anchor="end">10<tspan dy="-12.4" font-size="17.8">5</tspan></text>
<text x="577.3" y="2028.6" text-anchor="end">10<tspan dy="-12.4" font-size="17.8">4</tspan></text>
<text x="577.3" y="2122.5" text-anchor="end">10<tspan dy="-12.4" font-size="17.8">3</tspan></text>
<text x="577.3" y="2236.8" text-anchor="end">−10<tspan dy="-12.4" font-size="17.8">3</tspan></text>
<text x="577.3" y="2177.9" text-anchor="end">0</text>
<text x="664" y="2297.5" text-anchor="middle">0</text>
<text x="746.5" y="2297.5" text-anchor="middle">10<tspan dy="-12.4" font-size="17.8">3</tspan></text>
<text x="832.8" y="2297.5" text-anchor="middle">10<tspan dy="-12.4" font-size="17.8">4</tspan></text>
<text x="911" y="2297.5" text-anchor="middle">10<tspan dy="-12.4" font-size="17.8">5</tspan></text>
<text x="771.9" y="1889.2" text-anchor="middle">Day 33</text>
<text x="507.9" y="2077.7" text-anchor="middle" transform="rotate(-90 507.9 2077.7)">CCR6 BV785</text>
<text x="600.4" y="2332.5">CXCR3 PE-Dazzle</text>
<line x1="837.5" y1="2327.4" x2="1393.4" y2="2327.4" stroke="#000" stroke-width="2.3"/>
<path d="M1401.4 2327.4l-14.5 -8.2l3.2 8.2l-3.2 8.2z" fill="#000"/>
<text x="839.8" y="1948.8" fill="#0a0ac8">TET<tspan dy="8.6" font-size="17.8">751</tspan><tspan dy="-19.2" font-size="17.8">+</tspan></text>
<text x="839.8" y="1986.8">Bulk T<tspan dy="8.6" font-size="17.8">M</tspan></text>
<text x="604.2" y="2245" fill="#0a0ac8">50.35%</text>
<text x="817.7" y="2238.5" fill="#0a0ac8">44.68%</text>
</g>
<g id="pf2">
<path d="M1091 2026h5v5h-5zM1104 2029h5v5h-5zM1097 2037h5v2h-5zM1109 2037h5v2h-5zM1088 2037h5v2h-5zM1137 2038h6v1h-6zM1077 2038h5v1h-5zM1077 2039h7v1h-7zM1088 2039h14v1h-14zM1126 2039h5v1h-5zM1134 2039h9v1h-9zM1103 2039h11v2h-11zM1116 2039h9v2h-9zM1126 2040h17v1h-17zM1165 2037h5v5h-5zM1072 2040h30v2h-30zM1103 2041h22v2h-22zM1126 2041h18v2h-18zM1072 2042h27v1h-27zM1210 2039h5v5h-5zM1154 2042h5v2h-5zM1103 2043h41v1h-41zM1072 2043h28v1h-28zM1106 2044h38v1h-38zM1154 2044h7v3h-7zM1106 2045h41v2h-41zM1148 2046h5v1h-5zM1106 2047h58v1h-58zM1072 2044h29v5h-29zM1106 2048h66v1h-66zM1179 2048h9v2h-9zM1189 2049h5v1h-5zM1134 2049h38v1h-38zM1088 2049h45v1h-45zM1072 2049h12v2h-12zM1088 2050h8v1h-8zM1097 2050h97v1h-97zM1087 2051h52v1h-52zM1140 2051h54v1h-54zM1069 2051h14v1h-14zM1140 2052h14v1h-14zM1086 2052h29v1h-29zM1118 2052h8v1h-8zM1159 2052h35v1h-35zM1066 2052h16v2h-16zM1127 2052h12v2h-12zM1182 2053h12v1h-12zM1159 2053h22v1h-22zM1086 2053h40v1h-40zM1140 2053h16v2h-16zM1066 2054h58v1h-58zM1125 2054h14v1h-14zM1157 2054h40v1h-40zM1066 2055h75v1h-75zM1189 2055h8v1h-8zM1157 2055h30v1h-30zM1145 2055h11v2h-11zM1065 2056h6v1h-6zM1157 2056h13v1h-13zM1072 2056h69v1h-69zM1172 2056h15v1h-15zM1190 2056h7v1h-7zM1145 2057h25v1h-25zM1198 2057h5v1h-5zM1172 2057h25v1h-25zM1072 2057h71v1h-71zM1074 2058h129v1h-129zM1065 2057h5v3h-5zM1101 2059h14v1h-14zM1117 2059h8v1h-8zM1149 2059h54v1h-54zM1130 2059h17v2h-17zM1064 2060h6v1h-6zM1117 2060h11v1h-11zM1152 2060h51v1h-51zM1227 2057h5v5h-5zM1073 2059h27v3h-27zM1193 2061h10v1h-10zM1064 2061h5v1h-5zM1117 2061h74v1h-74zM1204 2058h5v5h-5zM1081 2062h19v1h-19zM1073 2062h6v1h-6zM1117 2062h82v1h-82zM1106 2060h5v4h-5zM1064 2062h6v2h-6zM1210 2063h5v1h-5zM1112 2063h43v1h-43zM1174 2063h21v1h-21zM1073 2063h27v1h-27zM1156 2063h15v1h-15zM1112 2064h59v1h-59zM1173 2064h28v1h-28zM1064 2064h36v2h-36zM1104 2065h15v1h-15zM1125 2065h57v1h-57zM1184 2065h17v1h-17zM1064 2066h55v1h-55zM1120 2066h49v1h-49zM1170 2066h31v1h-31zM1217 2064h5v4h-5zM1206 2064h9v4h-9zM1067 2067h27v1h-27zM1162 2067h39v1h-39zM1095 2067h66v1h-66zM1224 2067h5v1h-5zM1206 2068h16v1h-16zM1095 2068h42v1h-42zM1138 2068h63v1h-63zM1065 2068h29v1h-29zM1224 2068h9v2h-9zM1065 2069h135v1h-135zM1213 2069h9v1h-9zM1206 2069h5v1h-5zM1065 2070h146v1h-146zM1213 2070h20v1h-20zM1065 2071h168v2h-168zM1241 2069h5v5h-5zM1068 2073h63v1h-63zM1132 2073h81v2h-81zM1216 2073h16v2h-16zM1067 2074h64v1h-64zM1067 2075h65v1h-65zM1236 2075h5v1h-5zM1223 2075h11v2h-11zM1134 2075h81v2h-81zM1067 2076h66v1h-66zM1216 2075h5v3h-5zM1236 2076h6v2h-6zM1224 2077h10v1h-10zM1067 2077h148v2h-148zM1219 2078h23v1h-23zM1063 2079h179v1h-179zM1063 2080h180v2h-180zM1063 2082h142v1h-142zM1206 2082h37v1h-37zM1063 2083h180v1h-180zM1226 2084h22v1h-22zM1065 2084h153v2h-153zM1224 2085h16v1h-16zM1224 2086h12v1h-12zM1066 2086h151v1h-151zM1066 2087h104v1h-104zM1171 2087h65v1h-65zM1243 2085h5v5h-5zM1237 2087h5v3h-5zM1066 2088h170v2h-170zM1237 2090h7v1h-7zM1068 2090h156v1h-156zM1231 2090h5v1h-5zM1225 2091h5v1h-5zM1204 2091h20v1h-20zM1068 2091h134v2h-134zM1231 2091h16v2h-16zM1204 2092h26v1h-26zM1068 2093h179v1h-179zM1066 2094h140v2h-140zM1207 2094h40v2h-40zM1218 2096h25v1h-25zM1066 2096h150v2h-150zM1218 2097h9v1h-9zM1228 2097h15v1h-15zM1201 2098h49v1h-49zM1066 2098h134v1h-134zM1069 2099h55v1h-55zM1201 2099h10v1h-10zM1125 2099h75v1h-75zM1213 2099h21v2h-21zM1237 2099h5v2h-5zM1243 2099h7v2h-7zM1126 2100h85v1h-85zM1072 2100h52v1h-52zM1213 2101h20v1h-20zM1072 2101h138v1h-138zM1235 2101h15v1h-15zM1071 2102h139v1h-139zM1213 2102h21v1h-21zM1070 2103h132v1h-132zM1235 2102h5v3h-5zM1204 2103h6v2h-6zM1069 2104h133v1h-133zM1242 2102h8v4h-8zM1212 2103h22v3h-22zM1235 2105h6v1h-6zM1069 2105h141v2h-141zM1212 2106h39v1h-39zM1252 2106h5v3h-5zM1069 2107h182v2h-182zM1069 2109h188v1h-188zM1069 2110h33v1h-33zM1103 2110h154v1h-154zM1069 2111h189v2h-189zM1069 2113h168v1h-168zM1238 2113h20v2h-20zM1070 2114h167v1h-167zM1070 2115h23v1h-23zM1094 2115h164v1h-164zM1093 2116h165v1h-165zM1070 2116h22v1h-22zM1070 2117h188v1h-188zM1271 2115h5v5h-5zM1070 2118h190v2h-190zM1070 2120h178v1h-178zM1249 2120h11v1h-11zM1069 2121h191v1h-191zM1252 2122h8v1h-8zM1067 2122h184v1h-184zM1067 2123h191v2h-191zM1133 2125h125v1h-125zM1067 2125h65v1h-65zM1067 2126h168v1h-168zM1236 2126h17v1h-17zM1071 2127h176v1h-176zM1248 2127h9v1h-9zM1249 2128h8v1h-8zM1068 2128h179v1h-179zM1068 2129h189v2h-189zM1094 2131h163v1h-163zM1260 2128h5v5h-5zM1068 2131h25v2h-25zM1094 2132h162v1h-162zM1069 2133h187v2h-187zM1221 2135h35v1h-35zM1069 2135h149v1h-149zM1072 2136h184v1h-184zM1239 2137h17v1h-17zM1073 2137h164v1h-164zM1239 2138h16v1h-16zM1115 2138h122v1h-122zM1069 2138h44v2h-44zM1114 2139h126v1h-126zM1241 2139h14v1h-14zM1069 2140h187v2h-187zM1067 2142h189v3h-189zM1067 2145h188v5h-188zM1257 2147h5v4h-5zM1249 2150h5v1h-5zM1070 2150h178v1h-178zM1070 2151h192v1h-192zM1239 2152h19v2h-19zM1070 2152h166v2h-166zM1238 2154h20v1h-20zM1066 2154h170v2h-170zM1237 2155h21v1h-21zM1066 2156h191v1h-191zM1160 2157h97v1h-97zM1066 2157h93v1h-93zM1066 2158h50v1h-50zM1117 2158h140v2h-140zM1067 2159h49v1h-49zM1067 2160h186v1h-186zM1067 2161h185v1h-185zM1067 2162h109v1h-109zM1177 2162h75v1h-75zM1263 2159h5v5h-5zM1068 2163h184v1h-184zM1069 2164h167v1h-167zM1062 2164h5v1h-5zM1240 2164h12v1h-12zM1095 2165h158v1h-158zM1062 2165h32v2h-32zM1095 2166h159v1h-159zM1062 2167h11v1h-11zM1075 2167h179v1h-179zM1062 2168h12v1h-12zM1077 2168h181v1h-181zM1061 2169h197v1h-197zM1249 2170h9v1h-9zM1061 2170h187v2h-187zM1251 2171h7v1h-7zM1061 2172h197v1h-197zM1185 2173h71v1h-71zM1061 2173h123v1h-123zM1062 2174h194v2h-194zM1062 2176h192v2h-192zM1064 2178h190v1h-190zM1064 2179h193v2h-193zM1064 2181h187v1h-187zM1198 2182h53v1h-53zM1063 2182h134v1h-134zM1252 2181h5v3h-5zM1063 2183h188v1h-188zM1063 2184h182v1h-182zM1246 2184h5v1h-5zM1063 2185h181v2h-181zM1255 2185h5v5h-5zM1065 2187h181v5h-181zM1066 2192h180v1h-180zM1066 2193h82v1h-82zM1149 2193h97v1h-97zM1066 2194h180v1h-180zM1241 2195h5v1h-5zM1066 2195h173v1h-173zM1072 2196h167v1h-167zM1073 2197h159v2h-159zM1216 2199h16v1h-16zM1073 2199h141v1h-141zM1076 2200h86v1h-86zM1163 2200h51v1h-51zM1216 2200h10v2h-10zM1163 2201h43v1h-43zM1208 2201h6v1h-6zM1153 2201h9v1h-9zM1082 2201h66v1h-66zM1168 2202h38v1h-38zM1216 2202h5v1h-5zM1089 2202h57v1h-57zM1157 2202h5v1h-5zM1082 2202h5v2h-5zM1193 2203h13v1h-13zM1168 2203h7v1h-7zM1177 2203h10v1h-10zM1207 2202h7v3h-7zM1089 2203h54v2h-54zM1196 2204h5v1h-5zM1182 2204h5v1h-5zM1089 2205h51v1h-51zM1207 2205h5v2h-5zM1089 2206h41v1h-41zM1089 2207h16v1h-16zM1106 2207h16v1h-16zM1220 2204h5v5h-5zM1131 2206h5v3h-5zM1113 2208h6v1h-6zM1089 2208h15v1h-15zM1093 2209h6v1h-6zM1094 2210h5v1h-5z" fill="#b2b2b2"/>
<path d="M1204 2083h6v11h-6zM1228 2098h6v6h-6zM1130 2104h6v6h-6zM1172 2110h6v6h-6zM1158 2123h6v6h-6zM1124 2123h6v6h-6zM1250 2127h6v6h-6zM1174 2128h6v6h-6zM1181 2134h6v6h-6zM1214 2139h6v4h-6zM1199 2139h6v6h-6zM1212 2143h8v2h-8zM1111 2141h6v6h-6zM1130 2140h6v9h-6zM1212 2145h6v4h-6zM1148 2145h6v6h-6zM1204 2149h6v4h-6zM1157 2148h6v6h-6zM1106 2152h6v2h-6zM1193 2149h6v6h-6zM1203 2153h7v2h-7zM1124 2151h6v6h-6zM1214 2152h6v6h-6zM1106 2154h12v4h-12zM1203 2155h6v4h-6zM1112 2158h6v2h-6zM1121 2157h6v5h-6zM1169 2158h6v5h-6zM1119 2162h8v1h-8zM1158 2158h6v6h-6zM1165 2163h10v1h-10zM1207 2160h6v6h-6zM1195 2162h6v6h-6zM1119 2163h6v5h-6zM1151 2163h6v6h-6zM1186 2163h6v6h-6zM1165 2164h8v5h-8zM1218 2169h6v6h-6zM1127 2169h6v6h-6zM1200 2171h6v6h-6zM1190 2172h6v6h-6zM1207 2175h6v6h-6zM1172 2175h6v6h-6zM1161 2176h6v6h-6zM1215 2176h6v6h-6zM1143 2178h6v6h-6zM1124 2182h6v6h-6zM1181 2182h6v6h-6zM1138 2186h6v6h-6zM1183 2188h6v6h-6zM1165 2191h6v6h-6zM1102 2192h6v6h-6z" fill="#0000aa"/>
<line x1="1152" y1="1904.4" x2="1152" y2="2251.2" stroke="#000" stroke-width="2.6"/>
<line x1="1054" y1="2132.5" x2="1399.7" y2="2132.5" stroke="#000" stroke-width="2.2"/>
<path d="M1050 2086.2h4M1050 2069.7h4M1050 2058h4M1050 2041.6h4M1050 2035.3h4M1050 2029.9h4M1050 2025.1h4M1050 1995.6h4M1050 1980.9h4M1050 1970.4h4M1050 1955.7h4M1050 1950.1h4M1050 1945.2h4M1050 1940.9h4M1050 1911.9h4M1050 2152.1h4M1050 2191.7h4M1050 2143.8h4M1050 2200h4M1050 2136.5h4M1050 2207.3h4M1050 2131.2h4M1050 2212.6h4M1050 2126.9h4M1050 2216.9h4M1050 2123.4h4M1050 2220.4h4M1050 2120h4M1050 2223.8h4M1050 2117.2h4M1050 2226.6h4M1225.1 2251.2v4M1240.3 2251.2v4M1251.1 2251.2v4M1266.4 2251.2v4M1272.2 2251.2v4M1277.2 2251.2v4M1281.6 2251.2v4M1309.3 2251.2v4M1323.2 2251.2v4M1333 2251.2v4M1346.9 2251.2v4M1352.2 2251.2v4M1356.8 2251.2v4M1360.8 2251.2v4M1388.1 2251.2v4M1142 2251.2v4M1082 2251.2v4M1154.5 2251.2v4M1069.5 2251.2v4M1165.5 2251.2v4M1058.5 2251.2v4M1173.5 2251.2v4M1180.1 2251.2v4M1185.3 2251.2v4M1190.6 2251.2v4M1194.8 2251.2v4" fill="none" stroke="#222" stroke-width="1.8"/>
<path d="M1048 2049h6M1048 1962.3h6M1259.5 2251.2v6M1340.7 2251.2v6" fill="none" stroke="#222" stroke-width="2.2"/>
<path d="M1045.5 2114.4h8.5M1045.5 2020.8h8.5M1045.5 1937.1h8.5M1045.5 2228.7h8.5M1199 2251.2v8.5M1285.6 2251.2v8.5M1364.4 2251.2v8.5" fill="none" stroke="#222" stroke-width="3.4"/>
<rect x="1049" y="2163.9" width="5" height="16" fill="#222"/><rect x="1045.5" y="2168.4" width="8.5" height="7" fill="#222"/><rect x="1097" y="2251.2" width="30" height="5" fill="#111"/><rect x="1103.6" y="2251.2" width="16.8" height="8" fill="#111"/>
<line x1="1054" y1="1904.4" x2="1399.7" y2="1904.4" stroke="#222" stroke-width="1.5" stroke-linecap="square"/>
<line x1="1399.7" y1="1904.4" x2="1399.7" y2="2251.2" stroke="#333" stroke-width="1.5" stroke-linecap="square"/>
<line x1="1054" y1="2251.2" x2="1399.7" y2="2251.2" stroke="#000" stroke-width="2.2" stroke-linecap="square"/>
<line x1="1054" y1="1904.4" x2="1054" y2="2251.2" stroke="#000" stroke-width="2.2" stroke-linecap="square"/>
<text x="1031.3" y="1946.9" text-anchor="end">10<tspan dy="-12.4" font-size="17.8">5</tspan></text>
<text x="1031.3" y="2028.6" text-anchor="end">10<tspan dy="-12.4" font-size="17.8">4</tspan></text>
<text x="1031.3" y="2122.5" text-anchor="end">10<tspan dy="-12.4" font-size="17.8">3</tspan></text>
<text x="1031.3" y="2236.8" text-anchor="end">−10<tspan dy="-12.4" font-size="17.8">3</tspan></text>
<text x="1031.3" y="2177.9" text-anchor="end">0</text>
<text x="1117.3" y="2297.5" text-anchor="middle">0</text>
<text x="1200.2" y="2297.5" text-anchor="middle">10<tspan dy="-12.4" font-size="17.8">3</tspan></text>
<text x="1286.8" y="2297.5" text-anchor="middle">10<tspan dy="-12.4" font-size="17.8">4</tspan></text>
<text x="1365" y="2297.5" text-anchor="middle">10<tspan dy="-12.4" font-size="17.8">5</tspan></text>
<text x="1217.1" y="1889.2" text-anchor="middle">Day 209</text>
<text x="1286.5" y="1951.8" fill="#0a0ac8">TET<tspan dy="8.6" font-size="17.8">751</tspan><tspan dy="-19.2" font-size="17.8">+</tspan></text>
<text x="1286.5" y="1989.7">Bulk T<tspan dy="8.6" font-size="17.8">M</tspan></text>
<text x="1057.5" y="2245" fill="#0a0ac8">25.00%</text>
<text x="1293.5" y="2242" fill="#0a0ac8">57.69%</text>
</g>
<g id="pf3">
<path d="M1582.3 1826.1V2252.8H1819.8" fill="none" stroke="#2a2a2a" stroke-width="1.3"/>
<line x1="1568.2" y1="2252.8" x2="1583" y2="2252.8" stroke="#2a2a2a" stroke-width="1.3"/>
<line x1="1568.2" y1="1826.1" x2="1582.3" y2="1826.1" stroke="#2a2a2a" stroke-width="1.3"/>
<text x="1554.5" y="1835.7" text-anchor="end">100</text>
<line x1="1568.2" y1="1911.2" x2="1582.3" y2="1911.2" stroke="#2a2a2a" stroke-width="1.3"/>
<text x="1554.5" y="1920.8" text-anchor="end">80</text>
<line x1="1568.2" y1="1996.8" x2="1582.3" y2="1996.8" stroke="#2a2a2a" stroke-width="1.3"/>
<text x="1554.5" y="2006.4" text-anchor="end">60</text>
<line x1="1568.2" y1="2082" x2="1582.3" y2="2082" stroke="#2a2a2a" stroke-width="1.3"/>
<text x="1554.5" y="2091.6" text-anchor="end">40</text>
<line x1="1568.2" y1="2167.6" x2="1582.3" y2="2167.6" stroke="#2a2a2a" stroke-width="1.3"/>
<text x="1554.5" y="2177.2" text-anchor="end">20</text>
<text x="1554.5" y="2262.4" text-anchor="end">0</text>
<line x1="1649.8" y1="2252.8" x2="1649.8" y2="2267.4" stroke="#2a2a2a" stroke-width="1.3"/>
<line x1="1751.7" y1="2252.8" x2="1751.7" y2="2267.4" stroke="#2a2a2a" stroke-width="1.3"/>
<text x="1490" y="2039" text-anchor="middle" transform="rotate(-90 1490 2039)">CCR6<tspan dy="-10.5" font-size="17.8">−</tspan><tspan dy="10.5">CXCR3</tspan><tspan dy="-10.5" font-size="17.8">+</tspan><tspan dy="10.5"> (%)</tspan></text>
<text x="1649.5" y="1847.5" word-spacing="-1.2"><tspan font-style="italic">P</tspan> = 0.0003</text>
<text x="1649.5" y="2303.2" text-anchor="middle">20–60</text>
<text x="1751.5" y="2303.2" text-anchor="middle">&gt;120</text>
<text x="1702.5" y="2343" text-anchor="middle">Time after symptom</text>
<text x="1704.5" y="2377.7" text-anchor="middle">onset (d)</text>
<path d="M1649.8 1956.9L1751.7 1890.2M1649.8 1982.2L1751.7 1942.3M1649.8 1987L1751.7 1955.6M1649.8 2016.8L1751.7 1981.7M1649.8 2022.1L1751.7 1968.7M1649.8 2028L1751.7 1914.4M1649.8 2047.4L1751.7 1914.4M1649.8 2055.4L1751.7 1999.5M1649.8 2060.7L1751.7 2006.2M1649.8 2066L1751.7 2012.8M1649.8 2071.3L1751.7 2019.5M1649.8 2078.5L1751.7 1948.4M1649.8 2090L1751.7 1968.7M1649.8 2093.4L1751.7 1999.5M1649.8 2099.8L1751.7 2028.2M1649.8 2127.2L1751.7 2162.3M1649.8 2161.2L1751.7 2124.5M1649.8 2060.7L1751.7 2110.4M1649.8 2127.2L1751.7 2012.8M1649.8 2055.4L1751.7 2028.2" fill="none" stroke="#000" stroke-width="2"/>
<g fill="#000"><circle cx="1649.8" cy="1956.9" r="6.6"/><circle cx="1751.7" cy="1890.2" r="6.6"/><circle cx="1649.8" cy="1982.2" r="6.6"/><circle cx="1751.7" cy="1942.3" r="6.6"/><circle cx="1649.8" cy="1987" r="6.6"/><circle cx="1751.7" cy="1955.6" r="6.6"/><circle cx="1649.8" cy="2016.8" r="6.6"/><circle cx="1751.7" cy="1981.7" r="6.6"/><circle cx="1649.8" cy="2022.1" r="6.6"/><circle cx="1751.7" cy="1968.7" r="6.6"/><circle cx="1649.8" cy="2028" r="6.6"/><circle cx="1751.7" cy="1914.4" r="6.6"/><circle cx="1649.8" cy="2047.4" r="6.6"/><circle cx="1751.7" cy="1914.4" r="6.6"/><circle cx="1649.8" cy="2055.4" r="6.6"/><circle cx="1751.7" cy="1999.5" r="6.6"/><circle cx="1649.8" cy="2060.7" r="6.6"/><circle cx="1751.7" cy="2006.2" r="6.6"/><circle cx="1649.8" cy="2066" r="6.6"/><circle cx="1751.7" cy="2012.8" r="6.6"/><circle cx="1649.8" cy="2071.3" r="6.6"/><circle cx="1751.7" cy="2019.5" r="6.6"/><circle cx="1649.8" cy="2078.5" r="6.6"/><circle cx="1751.7" cy="1948.4" r="6.6"/><circle cx="1649.8" cy="2090" r="6.6"/><circle cx="1751.7" cy="1968.7" r="6.6"/><circle cx="1649.8" cy="2093.4" r="6.6"/><circle cx="1751.7" cy="1999.5" r="6.6"/><circle cx="1649.8" cy="2099.8" r="6.6"/><circle cx="1751.7" cy="2028.2" r="6.6"/><circle cx="1649.8" cy="2127.2" r="6.6"/><circle cx="1751.7" cy="2162.3" r="6.6"/><circle cx="1649.8" cy="2139.7" r="6.6"/><circle cx="1649.8" cy="2161.2" r="6.6"/><circle cx="1751.7" cy="2124.5" r="6.6"/><circle cx="1649.8" cy="2060.7" r="6.6"/><circle cx="1751.7" cy="2110.4" r="6.6"/><circle cx="1649.8" cy="2127.2" r="6.6"/><circle cx="1751.7" cy="2012.8" r="6.6"/><circle cx="1649.8" cy="2055.4" r="6.6"/><circle cx="1751.7" cy="2028.2" r="6.6"/></g>
</g>
</svg>
</body></html>
